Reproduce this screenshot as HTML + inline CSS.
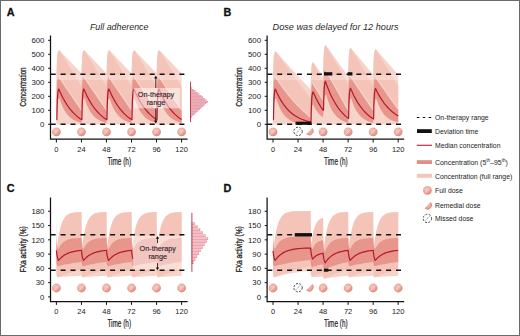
<!DOCTYPE html>
<html><head><meta charset="utf-8"><style>
html,body{margin:0;padding:0;background:#fff;}
body{width:520px;height:336px;overflow:hidden;position:relative;}
svg{position:absolute;left:0;top:0;font-family:"Liberation Sans", sans-serif;}
.frame{position:absolute;left:0;top:0;width:518px;height:334px;border:1px solid #6a6a6a;}
</style></head><body>
<svg width="520" height="336" viewBox="0 0 520 336">
<defs><radialGradient id="pg" cx="0.38" cy="0.35" r="0.7"><stop offset="0" stop-color="#f5c9bf"/><stop offset="0.6" stop-color="#eaa598"/><stop offset="1" stop-color="#d8867a"/></radialGradient></defs>
<path d="M56.40,73.32 L56.78,61.43 L57.16,55.67 L57.53,52.88 L57.91,51.53 L58.29,50.87 L58.67,50.56 L59.05,50.40 L59.43,50.33 L60.53,51.49 L61.63,52.65 L62.73,53.81 L63.83,54.96 L64.93,56.12 L66.03,57.28 L67.13,58.43 L68.23,59.58 L69.33,60.73 L70.43,61.88 L71.53,63.03 L72.63,64.18 L73.73,65.33 L74.84,66.47 L75.94,67.61 L77.04,68.76 L78.14,69.90 L79.24,71.04 L80.34,72.18 L81.44,73.32 L81.44,73.32 L81.82,61.43 L82.20,55.67 L82.57,52.88 L82.95,51.53 L83.33,50.87 L83.71,50.56 L84.09,50.40 L84.46,50.33 L85.57,51.49 L86.67,52.65 L87.77,53.81 L88.87,54.96 L89.97,56.12 L91.07,57.28 L92.17,58.43 L93.27,59.58 L94.37,60.73 L95.47,61.88 L96.57,63.03 L97.67,64.18 L98.77,65.33 L99.87,66.47 L100.97,67.61 L102.08,68.76 L103.18,69.90 L104.28,71.04 L105.38,72.18 L106.48,73.32 L106.48,73.32 L106.86,61.43 L107.23,55.67 L107.61,52.88 L107.99,51.53 L108.37,50.87 L108.75,50.56 L109.13,50.40 L109.50,50.33 L110.60,51.49 L111.71,52.65 L112.81,53.81 L113.91,54.96 L115.01,56.12 L116.11,57.28 L117.21,58.43 L118.31,59.58 L119.41,60.73 L120.51,61.88 L121.61,63.03 L122.71,64.18 L123.81,65.33 L124.91,66.47 L126.01,67.61 L127.11,68.76 L128.22,69.90 L129.32,71.04 L130.42,72.18 L131.52,73.32 L131.52,73.32 L131.90,61.43 L132.27,55.67 L132.65,52.88 L133.03,51.53 L133.41,50.87 L133.79,50.56 L134.16,50.40 L134.54,50.33 L135.64,51.49 L136.74,52.65 L137.85,53.81 L138.95,54.96 L140.05,56.12 L141.15,57.28 L142.25,58.43 L143.35,59.58 L144.45,60.73 L145.55,61.88 L146.65,63.03 L147.75,64.18 L148.85,65.33 L149.95,66.47 L151.05,67.61 L152.15,68.76 L153.25,69.90 L154.36,71.04 L155.46,72.18 L156.56,73.32 L156.56,73.32 L156.93,61.43 L157.31,55.67 L157.69,52.88 L158.07,51.53 L158.45,50.87 L158.83,50.56 L159.20,50.40 L159.58,50.33 L160.68,51.49 L161.78,52.65 L162.88,53.81 L163.99,54.96 L165.09,56.12 L166.19,57.28 L167.29,58.43 L168.39,59.58 L169.49,60.73 L170.59,61.88 L171.69,63.03 L172.79,64.18 L173.89,65.33 L174.99,66.47 L176.09,67.61 L177.19,68.76 L178.29,69.90 L179.39,71.04 L180.50,72.18 L181.60,73.32 L181.60,124.40 L180.45,124.40 L179.30,124.40 L178.15,124.40 L177.01,124.40 L175.86,124.40 L174.71,124.40 L173.56,124.40 L172.41,124.40 L171.27,124.40 L170.12,124.40 L168.97,124.40 L167.82,124.40 L166.68,124.40 L165.53,124.40 L164.38,124.40 L163.23,124.40 L162.09,124.40 L160.94,124.40 L159.79,124.40 L158.64,124.40 L158.38,124.40 L158.12,124.40 L157.86,124.40 L157.60,124.40 L157.34,124.40 L157.08,124.40 L156.82,124.40 L156.56,124.40 L156.56,124.40 L155.41,124.40 L154.26,124.40 L153.11,124.40 L151.97,124.40 L150.82,124.40 L149.67,124.40 L148.52,124.40 L147.38,124.40 L146.23,124.40 L145.08,124.40 L143.93,124.40 L142.79,124.40 L141.64,124.40 L140.49,124.40 L139.34,124.40 L138.19,124.40 L137.05,124.40 L135.90,124.40 L134.75,124.40 L133.60,124.40 L133.34,124.40 L133.08,124.40 L132.82,124.40 L132.56,124.40 L132.30,124.40 L132.04,124.40 L131.78,124.40 L131.52,124.40 L131.52,124.40 L130.37,124.40 L129.22,124.40 L128.07,124.40 L126.93,124.40 L125.78,124.40 L124.63,124.40 L123.48,124.40 L122.34,124.40 L121.19,124.40 L120.04,124.40 L118.89,124.40 L117.75,124.40 L116.60,124.40 L115.45,124.40 L114.30,124.40 L113.16,124.40 L112.01,124.40 L110.86,124.40 L109.71,124.40 L108.56,124.40 L108.30,124.40 L108.04,124.40 L107.78,124.40 L107.52,124.40 L107.26,124.40 L107.00,124.40 L106.74,124.40 L106.48,124.40 L106.48,124.40 L105.33,124.40 L104.18,124.40 L103.04,124.40 L101.89,124.40 L100.74,124.40 L99.59,124.40 L98.44,124.40 L97.30,124.40 L96.15,124.40 L95.00,124.40 L93.85,124.40 L92.71,124.40 L91.56,124.40 L90.41,124.40 L89.26,124.40 L88.12,124.40 L86.97,124.40 L85.82,124.40 L84.67,124.40 L83.53,124.40 L83.26,124.40 L83.00,124.40 L82.74,124.40 L82.48,124.40 L82.22,124.40 L81.96,124.40 L81.70,124.40 L81.44,124.40 L81.44,124.40 L80.29,124.40 L79.14,124.40 L78.00,124.40 L76.85,124.40 L75.70,124.40 L74.55,124.40 L73.41,124.40 L72.26,124.40 L71.11,124.40 L69.96,124.40 L68.82,124.40 L67.67,124.40 L66.52,124.40 L65.37,124.40 L64.22,124.40 L63.08,124.40 L61.93,124.40 L60.78,124.40 L59.63,124.40 L58.49,124.40 L58.23,124.40 L57.96,124.40 L57.70,124.40 L57.44,124.40 L57.18,124.40 L56.92,124.40 L56.66,124.40 L56.40,124.40Z" fill="#f7d4ca"/>
<path d="M56.40,86.23 L56.78,67.66 L57.16,58.67 L57.53,54.31 L57.91,52.20 L58.29,51.18 L58.67,50.68 L59.05,50.44 L59.43,50.33 L60.53,52.14 L61.63,53.95 L62.73,55.76 L63.83,57.57 L64.93,59.37 L66.03,61.18 L67.13,62.98 L68.23,64.78 L69.33,66.58 L70.43,68.37 L71.53,70.17 L72.63,71.96 L73.73,73.75 L74.84,75.54 L75.94,77.32 L77.04,79.11 L78.14,80.89 L79.24,82.67 L80.34,84.45 L81.44,86.23 L81.44,86.23 L81.82,67.66 L82.20,58.67 L82.57,54.31 L82.95,52.20 L83.33,51.18 L83.71,50.68 L84.09,50.44 L84.46,50.33 L85.57,52.14 L86.67,53.95 L87.77,55.76 L88.87,57.57 L89.97,59.37 L91.07,61.18 L92.17,62.98 L93.27,64.78 L94.37,66.58 L95.47,68.37 L96.57,70.17 L97.67,71.96 L98.77,73.75 L99.87,75.54 L100.97,77.32 L102.08,79.11 L103.18,80.89 L104.28,82.67 L105.38,84.45 L106.48,86.23 L106.48,86.23 L106.86,67.66 L107.23,58.67 L107.61,54.31 L107.99,52.20 L108.37,51.18 L108.75,50.68 L109.13,50.44 L109.50,50.33 L110.60,52.14 L111.71,53.95 L112.81,55.76 L113.91,57.57 L115.01,59.37 L116.11,61.18 L117.21,62.98 L118.31,64.78 L119.41,66.58 L120.51,68.37 L121.61,70.17 L122.71,71.96 L123.81,73.75 L124.91,75.54 L126.01,77.32 L127.11,79.11 L128.22,80.89 L129.32,82.67 L130.42,84.45 L131.52,86.23 L131.52,86.23 L131.90,67.66 L132.27,58.67 L132.65,54.31 L133.03,52.20 L133.41,51.18 L133.79,50.68 L134.16,50.44 L134.54,50.33 L135.64,52.14 L136.74,53.95 L137.85,55.76 L138.95,57.57 L140.05,59.37 L141.15,61.18 L142.25,62.98 L143.35,64.78 L144.45,66.58 L145.55,68.37 L146.65,70.17 L147.75,71.96 L148.85,73.75 L149.95,75.54 L151.05,77.32 L152.15,79.11 L153.25,80.89 L154.36,82.67 L155.46,84.45 L156.56,86.23 L156.56,86.23 L156.93,67.66 L157.31,58.67 L157.69,54.31 L158.07,52.20 L158.45,51.18 L158.83,50.68 L159.20,50.44 L159.58,50.33 L160.68,52.14 L161.78,53.95 L162.88,55.76 L163.99,57.57 L165.09,59.37 L166.19,61.18 L167.29,62.98 L168.39,64.78 L169.49,66.58 L170.59,68.37 L171.69,70.17 L172.79,71.96 L173.89,73.75 L174.99,75.54 L176.09,77.32 L177.19,79.11 L178.29,80.89 L179.39,82.67 L180.50,84.45 L181.60,86.23 L181.60,122.70 L180.50,122.45 L179.41,122.16 L178.31,121.83 L177.21,121.45 L176.12,121.02 L175.02,120.53 L173.93,119.96 L172.83,119.31 L171.74,118.56 L170.64,117.70 L169.55,116.72 L168.45,115.60 L167.35,114.31 L166.26,112.83 L165.16,111.14 L164.07,109.20 L162.97,106.97 L161.88,104.42 L160.78,101.50 L159.69,98.15 L159.30,98.36 L158.90,98.72 L158.51,99.36 L158.12,100.49 L157.73,102.46 L157.34,105.93 L156.95,112.02 L156.56,122.70 L156.56,122.70 L155.46,122.45 L154.37,122.16 L153.27,121.83 L152.17,121.45 L151.08,121.02 L149.98,120.53 L148.89,119.96 L147.79,119.31 L146.70,118.56 L145.60,117.70 L144.51,116.72 L143.41,115.60 L142.32,114.31 L141.22,112.83 L140.12,111.14 L139.03,109.20 L137.93,106.97 L136.84,104.42 L135.74,101.50 L134.65,98.15 L134.26,98.36 L133.87,98.72 L133.47,99.36 L133.08,100.49 L132.69,102.46 L132.30,105.93 L131.91,112.02 L131.52,122.70 L131.52,122.70 L130.42,122.45 L129.33,122.16 L128.23,121.83 L127.14,121.45 L126.04,121.02 L124.94,120.53 L123.85,119.96 L122.75,119.31 L121.66,118.56 L120.56,117.70 L119.47,116.72 L118.37,115.60 L117.28,114.31 L116.18,112.83 L115.09,111.14 L113.99,109.20 L112.89,106.97 L111.80,104.42 L110.70,101.50 L109.61,98.15 L109.22,98.36 L108.83,98.72 L108.43,99.36 L108.04,100.49 L107.65,102.46 L107.26,105.93 L106.87,112.02 L106.48,122.70 L106.48,122.70 L105.38,122.45 L104.29,122.16 L103.19,121.83 L102.10,121.45 L101.00,121.02 L99.91,120.53 L98.81,119.96 L97.71,119.31 L96.62,118.56 L95.52,117.70 L94.43,116.72 L93.33,115.60 L92.24,114.31 L91.14,112.83 L90.05,111.14 L88.95,109.20 L87.86,106.97 L86.76,104.42 L85.66,101.50 L84.57,98.15 L84.18,98.36 L83.79,98.72 L83.40,99.36 L83.00,100.49 L82.61,102.46 L82.22,105.93 L81.83,112.02 L81.44,122.70 L81.44,122.70 L80.34,122.45 L79.25,122.16 L78.15,121.83 L77.06,121.45 L75.96,121.02 L74.87,120.53 L73.77,119.96 L72.68,119.31 L71.58,118.56 L70.48,117.70 L69.39,116.72 L68.29,115.60 L67.20,114.31 L66.10,112.83 L65.01,111.14 L63.91,109.20 L62.82,106.97 L61.72,104.42 L60.63,101.50 L59.53,98.15 L59.14,98.36 L58.75,98.72 L58.36,99.36 L57.96,100.49 L57.57,102.46 L57.18,105.93 L56.79,112.02 L56.40,122.70Z" fill="#f4c4b9"/>
<path d="M56.40,110.21 L56.66,96.67 L56.92,88.46 L57.18,83.48 L57.44,80.46 L57.70,78.63 L57.96,77.52 L58.23,76.85 L58.49,76.44 L59.63,78.14 L60.78,79.85 L61.93,81.55 L63.08,83.25 L64.22,84.95 L65.37,86.65 L66.52,88.34 L67.67,90.04 L68.82,91.73 L69.96,93.42 L71.11,95.10 L72.26,96.79 L73.41,98.47 L74.55,100.16 L75.70,101.84 L76.85,103.51 L78.00,105.19 L79.14,106.87 L80.29,108.54 L81.44,110.21 L81.44,110.21 L81.70,96.67 L81.96,88.46 L82.22,83.48 L82.48,80.46 L82.74,78.63 L83.00,77.52 L83.26,76.85 L83.53,76.44 L84.67,78.14 L85.82,79.85 L86.97,81.55 L88.12,83.25 L89.26,84.95 L90.41,86.65 L91.56,88.34 L92.71,90.04 L93.85,91.73 L95.00,93.42 L96.15,95.10 L97.30,96.79 L98.44,98.47 L99.59,100.16 L100.74,101.84 L101.89,103.51 L103.04,105.19 L104.18,106.87 L105.33,108.54 L106.48,110.21 L106.48,110.21 L106.74,96.67 L107.00,88.46 L107.26,83.48 L107.52,80.46 L107.78,78.63 L108.04,77.52 L108.30,76.85 L108.56,76.44 L109.71,78.14 L110.86,79.85 L112.01,81.55 L113.16,83.25 L114.30,84.95 L115.45,86.65 L116.60,88.34 L117.75,90.04 L118.89,91.73 L120.04,93.42 L121.19,95.10 L122.34,96.79 L123.48,98.47 L124.63,100.16 L125.78,101.84 L126.93,103.51 L128.07,105.19 L129.22,106.87 L130.37,108.54 L131.52,110.21 L131.52,110.21 L131.78,96.67 L132.04,88.46 L132.30,83.48 L132.56,80.46 L132.82,78.63 L133.08,77.52 L133.34,76.85 L133.60,76.44 L134.75,78.14 L135.90,79.85 L137.05,81.55 L138.19,83.25 L139.34,84.95 L140.49,86.65 L141.64,88.34 L142.79,90.04 L143.93,91.73 L145.08,93.42 L146.23,95.10 L147.38,96.79 L148.52,98.47 L149.67,100.16 L150.82,101.84 L151.97,103.51 L153.11,105.19 L154.26,106.87 L155.41,108.54 L156.56,110.21 L156.56,110.21 L156.82,96.67 L157.08,88.46 L157.34,83.48 L157.60,80.46 L157.86,78.63 L158.12,77.52 L158.38,76.85 L158.64,76.44 L159.79,78.14 L160.94,79.85 L162.09,81.55 L163.23,83.25 L164.38,84.95 L165.53,86.65 L166.68,88.34 L167.82,90.04 L168.97,91.73 L170.12,93.42 L171.27,95.10 L172.41,96.79 L173.56,98.47 L174.71,100.16 L175.86,101.84 L177.01,103.51 L178.15,105.19 L179.30,106.87 L180.45,108.54 L181.60,110.21 L181.60,122.70 L180.50,122.45 L179.41,122.16 L178.31,121.83 L177.21,121.45 L176.12,121.02 L175.02,120.53 L173.93,119.96 L172.83,119.31 L171.74,118.56 L170.64,117.70 L169.55,116.72 L168.45,115.60 L167.35,114.31 L166.26,112.83 L165.16,111.14 L164.07,109.20 L162.97,106.97 L161.88,104.42 L160.78,101.50 L159.69,98.15 L159.30,98.36 L158.90,98.72 L158.51,99.36 L158.12,100.49 L157.73,102.46 L157.34,105.93 L156.95,112.02 L156.56,122.70 L156.56,122.70 L155.46,122.45 L154.37,122.16 L153.27,121.83 L152.17,121.45 L151.08,121.02 L149.98,120.53 L148.89,119.96 L147.79,119.31 L146.70,118.56 L145.60,117.70 L144.51,116.72 L143.41,115.60 L142.32,114.31 L141.22,112.83 L140.12,111.14 L139.03,109.20 L137.93,106.97 L136.84,104.42 L135.74,101.50 L134.65,98.15 L134.26,98.36 L133.87,98.72 L133.47,99.36 L133.08,100.49 L132.69,102.46 L132.30,105.93 L131.91,112.02 L131.52,122.70 L131.52,122.70 L130.42,122.45 L129.33,122.16 L128.23,121.83 L127.14,121.45 L126.04,121.02 L124.94,120.53 L123.85,119.96 L122.75,119.31 L121.66,118.56 L120.56,117.70 L119.47,116.72 L118.37,115.60 L117.28,114.31 L116.18,112.83 L115.09,111.14 L113.99,109.20 L112.89,106.97 L111.80,104.42 L110.70,101.50 L109.61,98.15 L109.22,98.36 L108.83,98.72 L108.43,99.36 L108.04,100.49 L107.65,102.46 L107.26,105.93 L106.87,112.02 L106.48,122.70 L106.48,122.70 L105.38,122.45 L104.29,122.16 L103.19,121.83 L102.10,121.45 L101.00,121.02 L99.91,120.53 L98.81,119.96 L97.71,119.31 L96.62,118.56 L95.52,117.70 L94.43,116.72 L93.33,115.60 L92.24,114.31 L91.14,112.83 L90.05,111.14 L88.95,109.20 L87.86,106.97 L86.76,104.42 L85.66,101.50 L84.57,98.15 L84.18,98.36 L83.79,98.72 L83.40,99.36 L83.00,100.49 L82.61,102.46 L82.22,105.93 L81.83,112.02 L81.44,122.70 L81.44,122.70 L80.34,122.45 L79.25,122.16 L78.15,121.83 L77.06,121.45 L75.96,121.02 L74.87,120.53 L73.77,119.96 L72.68,119.31 L71.58,118.56 L70.48,117.70 L69.39,116.72 L68.29,115.60 L67.20,114.31 L66.10,112.83 L65.01,111.14 L63.91,109.20 L62.82,106.97 L61.72,104.42 L60.63,101.50 L59.53,98.15 L59.14,98.36 L58.75,98.72 L58.36,99.36 L57.96,100.49 L57.57,102.46 L57.18,105.93 L56.79,112.02 L56.40,122.70Z" fill="#e8958c"/>
<path d="M58.49,76.44 L59.92,78.57 L61.36,80.70 L62.79,82.83 L64.22,84.95 L65.66,87.07 L67.09,89.19 L68.53,91.30 L69.96,93.42 L71.40,95.53 L72.83,97.63 L74.27,99.74 L75.70,101.84 L77.14,103.93 L78.57,106.03 L80.00,108.12 L81.44,110.21" fill="none" stroke="#fff" stroke-opacity="0.45" stroke-width="1.1"/>
<path d="M83.53,76.44 L84.96,78.57 L86.39,80.70 L87.83,82.83 L89.26,84.95 L90.70,87.07 L92.13,89.19 L93.57,91.30 L95.00,93.42 L96.44,95.53 L97.87,97.63 L99.31,99.74 L100.74,101.84 L102.17,103.93 L103.61,106.03 L105.04,108.12 L106.48,110.21" fill="none" stroke="#fff" stroke-opacity="0.45" stroke-width="1.1"/>
<path d="M108.56,76.44 L110.00,78.57 L111.43,80.70 L112.87,82.83 L114.30,84.95 L115.74,87.07 L117.17,89.19 L118.61,91.30 L120.04,93.42 L121.48,95.53 L122.91,97.63 L124.34,99.74 L125.78,101.84 L127.21,103.93 L128.65,106.03 L130.08,108.12 L131.52,110.21" fill="none" stroke="#fff" stroke-opacity="0.45" stroke-width="1.1"/>
<path d="M133.60,76.44 L135.04,78.57 L136.47,80.70 L137.91,82.83 L139.34,84.95 L140.78,87.07 L142.21,89.19 L143.65,91.30 L145.08,93.42 L146.52,95.53 L147.95,97.63 L149.38,99.74 L150.82,101.84 L152.25,103.93 L153.69,106.03 L155.12,108.12 L156.56,110.21" fill="none" stroke="#fff" stroke-opacity="0.45" stroke-width="1.1"/>
<path d="M158.64,76.44 L160.08,78.57 L161.51,80.70 L162.95,82.83 L164.38,84.95 L165.82,87.07 L167.25,89.19 L168.69,91.30 L170.12,93.42 L171.55,95.53 L172.99,97.63 L174.42,99.74 L175.86,101.84 L177.29,103.93 L178.73,106.03 L180.16,108.12 L181.60,110.21" fill="none" stroke="#fff" stroke-opacity="0.45" stroke-width="1.1"/>
<rect x="51.20" y="75.10" width="134.00" height="4.90" fill="#fff" fill-opacity="0.25"/>
<path d="M56.40,119.58 L56.87,119.58 L57.11,107.94 L57.35,100.61 L57.59,96.00 L57.83,93.09 L58.08,91.26 L58.32,90.11 L58.56,89.38 L58.80,88.93 L59.93,91.58 L61.06,94.06 L62.20,96.39 L63.33,98.58 L64.46,100.62 L65.59,102.54 L66.72,104.33 L67.86,106.02 L68.99,107.59 L70.12,109.07 L71.25,110.45 L72.38,111.75 L73.52,112.96 L74.65,114.10 L75.78,115.17 L76.91,116.17 L78.04,117.11 L79.18,117.98 L80.31,118.81 L81.44,119.58 L81.44,119.58 L81.91,119.58 L82.15,107.94 L82.39,100.61 L82.63,96.00 L82.87,93.09 L83.12,91.26 L83.36,90.11 L83.60,89.38 L83.84,88.93 L84.97,91.58 L86.10,94.06 L87.23,96.39 L88.37,98.58 L89.50,100.62 L90.63,102.54 L91.76,104.33 L92.89,106.02 L94.03,107.59 L95.16,109.07 L96.29,110.45 L97.42,111.75 L98.55,112.96 L99.69,114.10 L100.82,115.17 L101.95,116.17 L103.08,117.11 L104.21,117.98 L105.35,118.81 L106.48,119.58 L106.48,119.58 L106.95,119.58 L107.19,107.94 L107.43,100.61 L107.67,96.00 L107.91,93.09 L108.15,91.26 L108.40,90.11 L108.64,89.38 L108.88,88.93 L110.01,91.58 L111.14,94.06 L112.27,96.39 L113.41,98.58 L114.54,100.62 L115.67,102.54 L116.80,104.33 L117.93,106.02 L119.07,107.59 L120.20,109.07 L121.33,110.45 L122.46,111.75 L123.59,112.96 L124.73,114.10 L125.86,115.17 L126.99,116.17 L128.12,117.11 L129.25,117.98 L130.39,118.81 L131.52,119.58 L131.52,119.58 L131.99,119.58 L132.23,107.94 L132.47,100.61 L132.71,96.00 L132.95,93.09 L133.19,91.26 L133.43,90.11 L133.68,89.38 L133.92,88.93 L135.05,91.58 L136.18,94.06 L137.31,96.39 L138.45,98.58 L139.58,100.62 L140.71,102.54 L141.84,104.33 L142.97,106.02 L144.11,107.59 L145.24,109.07 L146.37,110.45 L147.50,111.75 L148.63,112.96 L149.76,114.10 L150.90,115.17 L152.03,116.17 L153.16,117.11 L154.29,117.98 L155.42,118.81 L156.56,119.58 L156.56,119.58 L157.03,119.58 L157.27,107.94 L157.51,100.61 L157.75,96.00 L157.99,93.09 L158.23,91.26 L158.47,90.11 L158.72,89.38 L158.96,88.93 L160.09,91.58 L161.22,94.06 L162.35,96.39 L163.48,98.58 L164.62,100.62 L165.75,102.54 L166.88,104.33 L168.01,106.02 L169.14,107.59 L170.28,109.07 L171.41,110.45 L172.54,111.75 L173.67,112.96 L174.80,114.10 L175.94,115.17 L177.07,116.17 L178.20,117.11 L179.33,117.98 L180.46,118.81 L181.60,119.58" fill="none" stroke="#b5172c" stroke-width="1.2" stroke-linejoin="round"/>
<path d="M273.00,73.32 L273.35,62.54 L273.70,57.06 L274.06,54.26 L274.41,52.84 L274.76,52.12 L275.11,51.75 L275.46,51.56 L275.82,51.46 L277.55,53.40 L279.29,55.34 L281.03,57.27 L282.77,59.20 L284.50,61.13 L286.24,63.05 L287.98,64.97 L289.71,66.88 L291.45,68.80 L293.19,70.71 L294.92,72.61 L296.66,74.52 L298.40,76.42 L300.14,78.32 L301.87,80.21 L303.61,82.10 L305.35,83.99 L307.08,85.87 L308.82,87.76 L310.56,89.63 L310.56,89.63 L310.88,76.69 L311.21,69.76 L311.54,66.05 L311.86,64.06 L312.19,63.00 L312.51,62.43 L312.84,62.13 L313.17,61.96 L313.66,62.68 L314.16,63.39 L314.65,64.10 L315.15,64.81 L315.64,65.52 L316.14,66.24 L316.64,66.95 L317.13,67.66 L317.63,68.37 L318.12,69.08 L318.62,69.79 L319.11,70.49 L319.61,71.20 L320.10,71.91 L320.60,72.62 L321.10,73.33 L321.59,74.03 L322.09,74.74 L322.58,75.45 L323.08,76.15 L323.08,76.15 L323.40,61.55 L323.73,53.73 L324.06,49.54 L324.38,47.30 L324.71,46.11 L325.03,45.46 L325.36,45.12 L325.69,44.94 L326.81,46.51 L327.93,48.07 L329.05,49.64 L330.17,51.20 L331.29,52.77 L332.42,54.33 L333.54,55.89 L334.66,57.45 L335.78,59.00 L336.90,60.56 L338.02,62.11 L339.15,63.66 L340.27,65.21 L341.39,66.76 L342.51,68.31 L343.63,69.85 L344.75,71.39 L345.87,72.93 L347.00,74.47 L348.12,76.01 L348.12,76.01 L348.44,62.80 L348.77,55.73 L349.10,51.94 L349.42,49.92 L349.75,48.83 L350.07,48.25 L350.40,47.94 L350.73,47.77 L351.85,49.12 L352.97,50.47 L354.09,51.81 L355.21,53.16 L356.33,54.50 L357.46,55.84 L358.58,57.18 L359.70,58.51 L360.82,59.85 L361.94,61.18 L363.06,62.52 L364.18,63.85 L365.31,65.18 L366.43,66.51 L367.55,67.84 L368.67,69.16 L369.79,70.49 L370.91,71.81 L372.04,73.13 L373.16,74.45 L373.16,74.45 L373.48,62.57 L373.81,56.21 L374.13,52.80 L374.46,50.98 L374.79,50.00 L375.11,49.48 L375.44,49.20 L375.77,49.05 L376.89,50.35 L378.01,51.64 L379.13,52.94 L380.25,54.23 L381.37,55.52 L382.49,56.81 L383.62,58.10 L384.74,59.39 L385.86,60.68 L386.98,61.96 L388.10,63.25 L389.22,64.53 L390.35,65.81 L391.47,67.09 L392.59,68.37 L393.71,69.64 L394.83,70.92 L395.95,72.19 L397.07,73.46 L398.20,74.74 L398.20,124.40 L397.05,124.40 L395.90,124.40 L394.75,124.40 L393.61,124.40 L392.46,124.40 L391.31,124.40 L390.16,124.40 L389.01,124.40 L387.87,124.40 L386.72,124.40 L385.57,124.40 L384.42,124.40 L383.28,124.40 L382.13,124.40 L380.98,124.40 L379.83,124.40 L378.69,124.40 L377.54,124.40 L376.39,124.40 L375.24,124.40 L374.98,124.40 L374.72,124.40 L374.46,124.40 L374.20,124.40 L373.94,124.40 L373.68,124.40 L373.42,124.40 L373.16,124.40 L373.16,124.40 L372.01,124.40 L370.86,124.40 L369.71,124.40 L368.57,124.40 L367.42,124.40 L366.27,124.40 L365.12,124.40 L363.98,124.40 L362.83,124.40 L361.68,124.40 L360.53,124.40 L359.39,124.40 L358.24,124.40 L357.09,124.40 L355.94,124.40 L354.79,124.40 L353.65,124.40 L352.50,124.40 L351.35,124.40 L350.20,124.40 L349.94,124.40 L349.68,124.40 L349.42,124.40 L349.16,124.40 L348.90,124.40 L348.64,124.40 L348.38,124.40 L348.12,124.40 L348.12,124.40 L346.97,124.40 L345.82,124.40 L344.67,124.40 L343.53,124.40 L342.38,124.40 L341.23,124.40 L340.08,124.40 L338.94,124.40 L337.79,124.40 L336.64,124.40 L335.49,124.40 L334.35,124.40 L333.20,124.40 L332.05,124.40 L330.90,124.40 L329.76,124.40 L328.61,124.40 L327.46,124.40 L326.31,124.40 L325.16,124.40 L324.90,124.40 L324.64,124.40 L324.38,124.40 L324.12,124.40 L323.86,124.40 L323.60,124.40 L323.34,124.40 L323.08,124.40 L323.08,124.40 L322.56,124.40 L322.04,124.40 L321.51,124.40 L320.99,124.40 L320.47,124.40 L319.95,124.40 L319.43,124.40 L318.91,124.40 L318.38,124.40 L317.86,124.40 L317.34,124.40 L316.82,124.40 L316.30,124.40 L315.78,124.40 L315.25,124.40 L314.73,124.40 L314.21,124.40 L313.69,124.40 L313.17,124.40 L312.65,124.40 L312.38,124.40 L312.12,124.40 L311.86,124.40 L311.60,124.40 L311.34,124.40 L311.08,124.40 L310.82,124.40 L310.56,124.40 L310.56,124.40 L308.79,124.40 L307.01,124.40 L305.24,124.40 L303.46,124.40 L301.69,124.40 L299.92,124.40 L298.14,124.40 L296.37,124.40 L294.60,124.40 L292.82,124.40 L291.05,124.40 L289.28,124.40 L287.50,124.40 L285.73,124.40 L283.95,124.40 L282.18,124.40 L280.41,124.40 L278.63,124.40 L276.86,124.40 L275.09,124.40 L274.83,124.40 L274.56,124.40 L274.30,124.40 L274.04,124.40 L273.78,124.40 L273.52,124.40 L273.26,124.40 L273.00,124.40Z" fill="#f7d4ca"/>
<path d="M273.00,86.23 L273.35,69.09 L273.70,60.36 L274.06,55.92 L274.41,53.65 L274.76,52.50 L275.11,51.91 L275.46,51.62 L275.82,51.46 L277.55,53.87 L279.29,56.27 L281.03,58.67 L282.77,61.07 L284.50,63.46 L286.24,65.85 L287.98,68.23 L289.71,70.61 L291.45,72.99 L293.19,75.36 L294.92,77.73 L296.66,80.09 L298.40,82.45 L300.14,84.80 L301.87,87.16 L303.61,89.50 L305.35,91.85 L307.08,94.19 L308.82,96.53 L310.56,98.86 L310.56,98.86 L310.88,81.86 L311.21,72.76 L311.54,67.89 L311.86,65.29 L312.19,63.89 L312.51,63.15 L312.84,62.75 L313.17,62.53 L313.66,63.50 L314.16,64.47 L314.65,65.44 L315.15,66.41 L315.64,67.37 L316.14,68.34 L316.64,69.31 L317.13,70.27 L317.63,71.24 L318.12,72.20 L318.62,73.17 L319.11,74.13 L319.61,75.10 L320.10,76.06 L320.60,77.02 L321.10,77.98 L321.59,78.95 L322.09,79.91 L322.58,80.87 L323.08,81.83 L323.08,81.83 L323.40,64.70 L323.73,55.53 L324.06,50.62 L324.38,48.00 L324.71,46.59 L325.03,45.84 L325.36,45.44 L325.69,45.22 L326.81,47.14 L327.93,49.06 L329.05,50.98 L330.17,52.89 L331.29,54.80 L332.42,56.71 L333.54,58.62 L334.66,60.53 L335.78,62.43 L336.90,64.34 L338.02,66.24 L339.15,68.14 L340.27,70.03 L341.39,71.93 L342.51,73.82 L343.63,75.71 L344.75,77.60 L345.87,79.48 L347.00,81.37 L348.12,83.25 L348.12,83.25 L348.44,66.78 L348.77,57.97 L349.10,53.25 L349.42,50.73 L349.75,49.38 L350.07,48.65 L350.40,48.27 L350.73,48.06 L351.85,49.94 L352.97,51.83 L354.09,53.71 L355.21,55.59 L356.33,57.46 L357.46,59.34 L358.58,61.21 L359.70,63.08 L360.82,64.95 L361.94,66.82 L363.06,68.68 L364.18,70.55 L365.31,72.41 L366.43,74.27 L367.55,76.12 L368.67,77.98 L369.79,79.83 L370.91,81.68 L372.04,83.53 L373.16,85.38 L373.16,85.38 L373.48,68.51 L373.81,59.49 L374.13,54.66 L374.46,52.07 L374.79,50.68 L375.11,49.94 L375.44,49.55 L375.77,49.33 L376.89,51.18 L378.01,53.02 L379.13,54.86 L380.25,56.69 L381.37,58.53 L382.49,60.36 L383.62,62.19 L384.74,64.02 L385.86,65.84 L386.98,67.67 L388.10,69.49 L389.22,71.31 L390.35,73.13 L391.47,74.94 L392.59,76.76 L393.71,78.57 L394.83,80.38 L395.95,82.19 L397.07,84.00 L398.20,85.80 L398.20,122.27 L397.10,122.03 L396.01,121.75 L394.91,121.43 L393.81,121.07 L392.72,120.65 L391.62,120.17 L390.53,119.63 L389.43,119.00 L388.34,118.28 L387.24,117.45 L386.15,116.50 L385.05,115.42 L383.95,114.17 L382.86,112.75 L381.76,111.11 L380.67,109.24 L379.57,107.09 L378.48,104.63 L377.38,101.81 L376.29,98.57 L375.90,98.78 L375.50,99.14 L375.11,99.77 L374.72,100.87 L374.33,102.82 L373.94,106.22 L373.55,112.20 L373.16,122.70 L373.16,122.70 L372.06,122.45 L370.97,122.16 L369.87,121.83 L368.77,121.45 L367.68,121.02 L366.58,120.53 L365.49,119.96 L364.39,119.31 L363.30,118.56 L362.20,117.70 L361.11,116.72 L360.01,115.60 L358.92,114.31 L357.82,112.83 L356.72,111.14 L355.63,109.20 L354.53,106.97 L353.44,104.42 L352.34,101.50 L351.25,98.15 L350.86,98.36 L350.47,98.72 L350.07,99.36 L349.68,100.49 L349.29,102.46 L348.90,105.93 L348.51,112.02 L348.12,122.70 L348.12,122.70 L347.02,122.41 L345.93,122.08 L344.83,121.71 L343.74,121.27 L342.64,120.78 L341.54,120.21 L340.45,119.56 L339.35,118.82 L338.26,117.96 L337.16,116.98 L336.07,115.86 L334.97,114.57 L333.88,113.10 L332.78,111.41 L331.69,109.47 L330.59,107.25 L329.49,104.70 L328.40,101.78 L327.30,98.44 L326.21,94.60 L325.82,94.79 L325.43,95.13 L325.03,95.72 L324.64,96.77 L324.25,98.59 L323.86,101.80 L323.47,107.43 L323.08,117.31 L323.08,117.31 L322.58,116.97 L322.09,116.62 L321.59,116.24 L321.10,115.84 L320.60,115.41 L320.10,114.96 L319.61,114.47 L319.11,113.96 L318.62,113.41 L318.12,112.83 L317.63,112.21 L317.13,111.55 L316.64,110.85 L316.14,110.11 L315.64,109.32 L315.15,108.48 L314.65,107.58 L314.16,106.63 L313.66,105.61 L313.17,104.53 L312.84,104.82 L312.51,105.28 L312.19,106.01 L311.86,107.18 L311.54,109.04 L311.21,112.02 L310.88,116.79 L310.56,124.40 L310.56,124.40 L308.84,124.31 L307.12,124.20 L305.39,124.07 L303.67,123.90 L301.95,123.70 L300.23,123.44 L298.51,123.13 L296.79,122.74 L295.07,122.25 L293.34,121.65 L291.62,120.90 L289.90,119.98 L288.18,118.83 L286.46,117.42 L284.74,115.66 L283.02,113.48 L281.29,110.78 L279.57,107.43 L277.85,103.29 L276.13,98.15 L275.74,98.36 L275.35,98.72 L274.96,99.36 L274.56,100.49 L274.17,102.46 L273.78,105.93 L273.39,112.02 L273.00,122.70Z" fill="#f4c4b9"/>
<path d="M273.00,110.21 L273.26,96.67 L273.52,88.46 L273.78,83.48 L274.04,80.46 L274.30,78.63 L274.56,77.52 L274.83,76.85 L275.09,76.44 L276.86,79.21 L278.63,81.88 L280.41,84.47 L282.18,86.97 L283.95,89.39 L285.73,91.72 L287.50,93.98 L289.28,96.16 L291.05,98.27 L292.82,100.31 L294.60,102.28 L296.37,104.19 L298.14,106.03 L299.92,107.81 L301.69,109.53 L303.46,111.19 L305.24,112.80 L307.01,114.35 L308.79,115.85 L310.56,117.31 L310.56,117.31 L310.82,103.65 L311.08,95.38 L311.34,90.35 L311.60,87.31 L311.86,85.46 L312.12,84.34 L312.38,83.66 L312.65,83.25 L313.17,84.10 L313.69,84.96 L314.21,85.81 L314.73,86.67 L315.25,87.52 L315.78,88.38 L316.30,89.23 L316.82,90.08 L317.34,90.93 L317.86,91.78 L318.38,92.64 L318.91,93.49 L319.43,94.34 L319.95,95.19 L320.47,96.04 L320.99,96.89 L321.51,97.73 L322.04,98.58 L322.56,99.43 L323.08,100.28 L323.08,100.28 L323.34,87.76 L323.60,80.18 L323.86,75.57 L324.12,72.78 L324.38,71.09 L324.64,70.06 L324.90,69.44 L325.16,69.06 L326.31,71.14 L327.46,73.21 L328.61,75.29 L329.76,77.36 L330.90,79.43 L332.05,81.50 L333.20,83.56 L334.35,85.63 L335.49,87.69 L336.64,89.75 L337.79,91.80 L338.94,93.86 L340.08,95.91 L341.23,97.96 L342.38,100.01 L343.53,102.05 L344.67,104.09 L345.82,106.14 L346.97,108.17 L348.12,110.21 L348.12,110.21 L348.38,96.56 L348.64,88.28 L348.90,83.26 L349.16,80.21 L349.42,78.37 L349.68,77.25 L349.94,76.57 L350.20,76.15 L351.35,77.87 L352.50,79.59 L353.65,81.31 L354.79,83.03 L355.94,84.74 L357.09,86.45 L358.24,88.16 L359.39,89.87 L360.53,91.57 L361.68,93.28 L362.83,94.98 L363.98,96.68 L365.12,98.38 L366.27,100.07 L367.42,101.77 L368.57,103.46 L369.71,105.15 L370.86,106.84 L372.01,108.52 L373.16,110.21 L373.16,110.21 L373.42,96.84 L373.68,88.74 L373.94,83.82 L374.20,80.84 L374.46,79.03 L374.72,77.93 L374.98,77.27 L375.24,76.86 L376.39,78.51 L377.54,80.16 L378.69,81.80 L379.83,83.45 L380.98,85.09 L382.13,86.73 L383.28,88.37 L384.42,90.00 L385.57,91.64 L386.72,93.27 L387.87,94.90 L389.01,96.53 L390.16,98.16 L391.31,99.78 L392.46,101.41 L393.61,103.03 L394.75,104.65 L395.90,106.27 L397.05,107.89 L398.20,109.50 L398.20,122.27 L397.10,122.03 L396.01,121.75 L394.91,121.43 L393.81,121.07 L392.72,120.65 L391.62,120.17 L390.53,119.63 L389.43,119.00 L388.34,118.28 L387.24,117.45 L386.15,116.50 L385.05,115.42 L383.95,114.17 L382.86,112.75 L381.76,111.11 L380.67,109.24 L379.57,107.09 L378.48,104.63 L377.38,101.81 L376.29,98.57 L375.90,98.78 L375.50,99.14 L375.11,99.77 L374.72,100.87 L374.33,102.82 L373.94,106.22 L373.55,112.20 L373.16,122.70 L373.16,122.70 L372.06,122.45 L370.97,122.16 L369.87,121.83 L368.77,121.45 L367.68,121.02 L366.58,120.53 L365.49,119.96 L364.39,119.31 L363.30,118.56 L362.20,117.70 L361.11,116.72 L360.01,115.60 L358.92,114.31 L357.82,112.83 L356.72,111.14 L355.63,109.20 L354.53,106.97 L353.44,104.42 L352.34,101.50 L351.25,98.15 L350.86,98.36 L350.47,98.72 L350.07,99.36 L349.68,100.49 L349.29,102.46 L348.90,105.93 L348.51,112.02 L348.12,122.70 L348.12,122.70 L347.02,122.41 L345.93,122.08 L344.83,121.71 L343.74,121.27 L342.64,120.78 L341.54,120.21 L340.45,119.56 L339.35,118.82 L338.26,117.96 L337.16,116.98 L336.07,115.86 L334.97,114.57 L333.88,113.10 L332.78,111.41 L331.69,109.47 L330.59,107.25 L329.49,104.70 L328.40,101.78 L327.30,98.44 L326.21,94.60 L325.82,94.79 L325.43,95.13 L325.03,95.72 L324.64,96.77 L324.25,98.59 L323.86,101.80 L323.47,107.43 L323.08,117.31 L323.08,117.31 L322.58,116.97 L322.09,116.62 L321.59,116.24 L321.10,115.84 L320.60,115.41 L320.10,114.96 L319.61,114.47 L319.11,113.96 L318.62,113.41 L318.12,112.83 L317.63,112.21 L317.13,111.55 L316.64,110.85 L316.14,110.11 L315.64,109.32 L315.15,108.48 L314.65,107.58 L314.16,106.63 L313.66,105.61 L313.17,104.53 L312.84,104.82 L312.51,105.28 L312.19,106.01 L311.86,107.18 L311.54,109.04 L311.21,112.02 L310.88,116.79 L310.56,124.40 L310.56,124.40 L308.84,124.31 L307.12,124.20 L305.39,124.07 L303.67,123.90 L301.95,123.70 L300.23,123.44 L298.51,123.13 L296.79,122.74 L295.07,122.25 L293.34,121.65 L291.62,120.90 L289.90,119.98 L288.18,118.83 L286.46,117.42 L284.74,115.66 L283.02,113.48 L281.29,110.78 L279.57,107.43 L277.85,103.29 L276.13,98.15 L275.74,98.36 L275.35,98.72 L274.96,99.36 L274.56,100.49 L274.17,102.46 L273.78,105.93 L273.39,112.02 L273.00,122.70Z" fill="#e8958c"/>
<path d="M275.09,76.44 L277.30,79.88 L279.52,83.19 L281.74,86.35 L283.95,89.39 L286.17,92.29 L288.39,95.08 L290.61,97.75 L292.82,100.31 L295.04,102.77 L297.26,105.12 L299.47,107.37 L301.69,109.53 L303.91,111.60 L306.12,113.58 L308.34,115.48 L310.56,117.31" fill="none" stroke="#fff" stroke-opacity="0.45" stroke-width="1.1"/>
<path d="M312.65,83.25 L313.30,84.32 L313.95,85.39 L314.60,86.45 L315.25,87.52 L315.91,88.59 L316.56,89.65 L317.21,90.72 L317.86,91.78 L318.51,92.85 L319.17,93.91 L319.82,94.97 L320.47,96.04 L321.12,97.10 L321.77,98.16 L322.43,99.22 L323.08,100.28" fill="none" stroke="#fff" stroke-opacity="0.45" stroke-width="1.1"/>
<path d="M325.16,69.06 L326.60,71.66 L328.03,74.25 L329.47,76.84 L330.90,79.43 L332.34,82.02 L333.77,84.60 L335.21,87.17 L336.64,89.75 L338.08,92.32 L339.51,94.88 L340.94,97.45 L342.38,100.01 L343.81,102.56 L345.25,105.12 L346.68,107.66 L348.12,110.21" fill="none" stroke="#fff" stroke-opacity="0.45" stroke-width="1.1"/>
<path d="M350.20,76.15 L351.64,78.30 L353.07,80.45 L354.51,82.60 L355.94,84.74 L357.38,86.88 L358.81,89.01 L360.25,91.15 L361.68,93.28 L363.12,95.40 L364.55,97.53 L365.98,99.65 L367.42,101.77 L368.85,103.88 L370.29,105.99 L371.72,108.10 L373.16,110.21" fill="none" stroke="#fff" stroke-opacity="0.45" stroke-width="1.1"/>
<path d="M375.24,76.86 L376.68,78.92 L378.11,80.98 L379.55,83.04 L380.98,85.09 L382.42,87.14 L383.85,89.19 L385.29,91.23 L386.72,93.27 L388.15,95.31 L389.59,97.35 L391.02,99.38 L392.46,101.41 L393.89,103.44 L395.33,105.46 L396.76,107.48 L398.20,109.50" fill="none" stroke="#fff" stroke-opacity="0.45" stroke-width="1.1"/>
<rect x="267.80" y="75.10" width="134.00" height="4.90" fill="#fff" fill-opacity="0.25"/>
<path d="M273.00,119.58 L273.47,119.58 L273.70,108.38 L273.93,101.15 L274.15,96.48 L274.38,93.46 L274.61,91.52 L274.84,90.26 L275.07,89.45 L275.30,88.93 L277.06,93.00 L278.82,96.61 L280.58,99.83 L282.35,102.68 L284.11,105.22 L285.87,107.47 L287.64,109.47 L289.40,111.25 L291.16,112.83 L292.93,114.23 L294.69,115.48 L296.45,116.59 L298.22,117.57 L299.98,118.45 L301.74,119.23 L303.51,119.92 L305.27,120.53 L307.03,121.07 L308.80,121.56 L310.56,121.99 L310.56,121.99 L311.03,121.99 L311.30,109.72 L311.56,102.37 L311.83,97.97 L312.10,95.34 L312.37,93.76 L312.63,92.81 L312.90,92.24 L313.17,91.90 L313.66,93.08 L314.16,94.22 L314.65,95.33 L315.15,96.41 L315.64,97.46 L316.14,98.48 L316.64,99.47 L317.13,100.43 L317.63,101.36 L318.12,102.27 L318.62,103.16 L319.11,104.01 L319.61,104.85 L320.10,105.66 L320.60,106.45 L321.10,107.21 L321.59,107.96 L322.09,108.68 L322.58,109.38 L323.08,110.07 L323.08,110.07 L323.55,110.07 L323.78,99.54 L324.00,92.75 L324.23,88.36 L324.46,85.53 L324.69,83.70 L324.92,82.52 L325.15,81.75 L325.37,81.26 L326.51,84.48 L327.65,87.49 L328.79,90.31 L329.92,92.95 L331.06,95.42 L332.20,97.74 L333.33,99.91 L334.47,101.94 L335.61,103.84 L336.75,105.63 L337.88,107.30 L339.02,108.86 L340.16,110.33 L341.29,111.70 L342.43,112.99 L343.57,114.19 L344.71,115.32 L345.84,116.38 L346.98,117.37 L348.12,118.30 L348.12,118.30 L348.59,118.30 L348.83,106.88 L349.07,99.68 L349.31,95.15 L349.55,92.30 L349.79,90.51 L350.03,89.38 L350.28,88.66 L350.52,88.22 L351.65,90.87 L352.78,93.36 L353.91,95.68 L355.05,97.87 L356.18,99.91 L357.31,101.83 L358.44,103.62 L359.57,105.31 L360.71,106.88 L361.84,108.36 L362.97,109.74 L364.10,111.04 L365.23,112.26 L366.36,113.39 L367.50,114.46 L368.63,115.46 L369.76,116.40 L370.89,117.27 L372.02,118.10 L373.16,118.87 L373.16,118.87 L373.63,118.87 L373.87,107.34 L374.11,100.08 L374.35,95.50 L374.59,92.63 L374.83,90.81 L375.07,89.67 L375.32,88.95 L375.56,88.50 L376.69,90.87 L377.82,93.09 L378.95,95.17 L380.08,97.12 L381.22,98.95 L382.35,100.66 L383.48,102.27 L384.61,103.77 L385.74,105.18 L386.88,106.50 L388.01,107.74 L389.14,108.89 L390.27,109.98 L391.40,111.00 L392.54,111.95 L393.67,112.84 L394.80,113.68 L395.93,114.46 L397.06,115.20 L398.20,115.89" fill="none" stroke="#b5172c" stroke-width="1.2" stroke-linejoin="round"/>
<path d="M56.40,212.05 L56.50,225.88 L56.61,234.27 L56.71,239.36 L56.82,242.45 L56.92,244.32 L57.03,245.46 L57.13,246.15 L57.23,246.56 L58.44,237.85 L59.66,231.33 L60.87,226.45 L62.08,222.79 L63.29,220.06 L64.50,218.02 L65.71,216.49 L66.92,215.34 L68.13,214.49 L69.34,213.85 L70.55,213.37 L71.76,213.01 L72.97,212.74 L74.18,212.54 L75.39,212.39 L76.60,212.28 L77.81,212.19 L79.02,212.13 L80.23,212.08 L81.44,212.05 L81.44,212.05 L81.54,225.88 L81.65,234.27 L81.75,239.36 L81.86,242.45 L81.96,244.32 L82.07,245.46 L82.17,246.15 L82.27,246.56 L83.48,237.85 L84.69,231.33 L85.90,226.45 L87.11,222.79 L88.32,220.06 L89.54,218.02 L90.75,216.49 L91.96,215.34 L93.17,214.49 L94.38,213.85 L95.59,213.37 L96.80,213.01 L98.01,212.74 L99.22,212.54 L100.43,212.39 L101.64,212.28 L102.85,212.19 L104.06,212.13 L105.27,212.08 L106.48,212.05 L106.48,212.05 L106.58,225.88 L106.69,234.27 L106.79,239.36 L106.90,242.45 L107.00,244.32 L107.10,245.46 L107.21,246.15 L107.31,246.56 L108.52,237.85 L109.73,231.33 L110.94,226.45 L112.15,222.79 L113.36,220.06 L114.57,218.02 L115.78,216.49 L116.99,215.34 L118.21,214.49 L119.42,213.85 L120.63,213.37 L121.84,213.01 L123.05,212.74 L124.26,212.54 L125.47,212.39 L126.68,212.28 L127.89,212.19 L129.10,212.13 L130.31,212.08 L131.52,212.05 L131.52,212.05 L131.62,225.88 L131.73,234.27 L131.83,239.36 L131.93,242.45 L132.04,244.32 L132.14,245.46 L132.25,246.15 L132.35,246.56 L133.56,237.85 L134.77,231.33 L135.98,226.45 L137.19,222.79 L138.40,220.06 L139.61,218.02 L140.82,216.49 L142.03,215.34 L143.24,214.49 L144.45,213.85 L145.66,213.37 L146.87,213.01 L148.09,212.74 L149.30,212.54 L150.51,212.39 L151.72,212.28 L152.93,212.19 L154.14,212.13 L155.35,212.08 L156.56,212.05 L156.56,212.05 L156.66,225.88 L156.77,234.27 L156.87,239.36 L156.97,242.45 L157.08,244.32 L157.18,245.46 L157.29,246.15 L157.39,246.56 L158.60,237.85 L159.81,231.33 L161.02,226.45 L162.23,222.79 L163.44,220.06 L164.65,218.02 L165.86,216.49 L167.07,215.34 L168.28,214.49 L169.49,213.85 L170.70,213.37 L171.91,213.01 L173.12,212.74 L174.33,212.54 L175.54,212.39 L176.76,212.28 L177.97,212.19 L179.18,212.13 L180.39,212.08 L181.60,212.05 L181.60,275.81 L180.42,275.86 L179.25,275.91 L178.07,275.97 L176.90,276.02 L175.73,276.08 L174.55,276.14 L173.38,276.20 L172.21,276.27 L171.03,276.34 L169.86,276.41 L168.69,276.48 L167.51,276.55 L166.34,276.63 L165.16,276.71 L163.99,276.79 L162.82,276.87 L161.64,276.96 L160.47,277.05 L159.30,277.15 L158.12,277.24 L157.93,277.21 L157.73,277.16 L157.53,277.09 L157.34,276.98 L157.14,276.83 L156.95,276.61 L156.75,276.28 L156.56,275.81 L156.56,275.81 L155.38,275.86 L154.21,275.91 L153.04,275.97 L151.86,276.02 L150.69,276.08 L149.51,276.14 L148.34,276.20 L147.17,276.27 L145.99,276.34 L144.82,276.41 L143.65,276.48 L142.47,276.55 L141.30,276.63 L140.12,276.71 L138.95,276.79 L137.78,276.87 L136.60,276.96 L135.43,277.05 L134.26,277.15 L133.08,277.24 L132.89,277.21 L132.69,277.16 L132.50,277.09 L132.30,276.98 L132.10,276.83 L131.91,276.61 L131.71,276.28 L131.52,275.81 L131.52,275.81 L130.34,275.86 L129.17,275.91 L128.00,275.97 L126.82,276.02 L125.65,276.08 L124.48,276.14 L123.30,276.20 L122.13,276.27 L120.95,276.34 L119.78,276.41 L118.61,276.48 L117.43,276.55 L116.26,276.63 L115.09,276.71 L113.91,276.79 L112.74,276.87 L111.56,276.96 L110.39,277.05 L109.22,277.15 L108.04,277.24 L107.85,277.21 L107.65,277.16 L107.46,277.09 L107.26,276.98 L107.07,276.83 L106.87,276.61 L106.67,276.28 L106.48,275.81 L106.48,275.81 L105.30,275.86 L104.13,275.91 L102.96,275.97 L101.78,276.02 L100.61,276.08 L99.44,276.14 L98.26,276.20 L97.09,276.27 L95.91,276.34 L94.74,276.41 L93.57,276.48 L92.39,276.55 L91.22,276.63 L90.05,276.71 L88.87,276.79 L87.70,276.87 L86.53,276.96 L85.35,277.05 L84.18,277.15 L83.00,277.24 L82.81,277.21 L82.61,277.16 L82.42,277.09 L82.22,276.98 L82.03,276.83 L81.83,276.61 L81.63,276.28 L81.44,275.81 L81.44,275.81 L80.27,275.86 L79.09,275.91 L77.92,275.97 L76.74,276.02 L75.57,276.08 L74.40,276.14 L73.22,276.20 L72.05,276.27 L70.88,276.34 L69.70,276.41 L68.53,276.48 L67.35,276.55 L66.18,276.63 L65.01,276.71 L63.83,276.79 L62.66,276.87 L61.49,276.96 L60.31,277.05 L59.14,277.15 L57.96,277.24 L57.77,277.21 L57.57,277.16 L57.38,277.09 L57.18,276.98 L56.99,276.83 L56.79,276.61 L56.60,276.28 L56.40,275.81Z" fill="#f7d4ca"/>
<path d="M56.40,212.05 L56.50,225.88 L56.61,234.27 L56.71,239.36 L56.82,242.45 L56.92,244.32 L57.03,245.46 L57.13,246.15 L57.23,246.56 L58.44,237.85 L59.66,231.33 L60.87,226.45 L62.08,222.79 L63.29,220.06 L64.50,218.02 L65.71,216.49 L66.92,215.34 L68.13,214.49 L69.34,213.85 L70.55,213.37 L71.76,213.01 L72.97,212.74 L74.18,212.54 L75.39,212.39 L76.60,212.28 L77.81,212.19 L79.02,212.13 L80.23,212.08 L81.44,212.05 L81.44,212.05 L81.54,225.88 L81.65,234.27 L81.75,239.36 L81.86,242.45 L81.96,244.32 L82.07,245.46 L82.17,246.15 L82.27,246.56 L83.48,237.85 L84.69,231.33 L85.90,226.45 L87.11,222.79 L88.32,220.06 L89.54,218.02 L90.75,216.49 L91.96,215.34 L93.17,214.49 L94.38,213.85 L95.59,213.37 L96.80,213.01 L98.01,212.74 L99.22,212.54 L100.43,212.39 L101.64,212.28 L102.85,212.19 L104.06,212.13 L105.27,212.08 L106.48,212.05 L106.48,212.05 L106.58,225.88 L106.69,234.27 L106.79,239.36 L106.90,242.45 L107.00,244.32 L107.10,245.46 L107.21,246.15 L107.31,246.56 L108.52,237.85 L109.73,231.33 L110.94,226.45 L112.15,222.79 L113.36,220.06 L114.57,218.02 L115.78,216.49 L116.99,215.34 L118.21,214.49 L119.42,213.85 L120.63,213.37 L121.84,213.01 L123.05,212.74 L124.26,212.54 L125.47,212.39 L126.68,212.28 L127.89,212.19 L129.10,212.13 L130.31,212.08 L131.52,212.05 L131.52,212.05 L131.62,225.88 L131.73,234.27 L131.83,239.36 L131.93,242.45 L132.04,244.32 L132.14,245.46 L132.25,246.15 L132.35,246.56 L133.56,237.85 L134.77,231.33 L135.98,226.45 L137.19,222.79 L138.40,220.06 L139.61,218.02 L140.82,216.49 L142.03,215.34 L143.24,214.49 L144.45,213.85 L145.66,213.37 L146.87,213.01 L148.09,212.74 L149.30,212.54 L150.51,212.39 L151.72,212.28 L152.93,212.19 L154.14,212.13 L155.35,212.08 L156.56,212.05 L156.56,212.05 L156.66,225.88 L156.77,234.27 L156.87,239.36 L156.97,242.45 L157.08,244.32 L157.18,245.46 L157.29,246.15 L157.39,246.56 L158.60,237.85 L159.81,231.33 L161.02,226.45 L162.23,222.79 L163.44,220.06 L164.65,218.02 L165.86,216.49 L167.07,215.34 L168.28,214.49 L169.49,213.85 L170.70,213.37 L171.91,213.01 L173.12,212.74 L174.33,212.54 L175.54,212.39 L176.76,212.28 L177.97,212.19 L179.18,212.13 L180.39,212.08 L181.60,212.05 L181.60,269.57 L180.42,269.88 L179.25,270.20 L178.07,270.52 L176.90,270.85 L175.73,271.18 L174.55,271.52 L173.38,271.88 L172.21,272.24 L171.03,272.60 L169.86,272.98 L168.69,273.36 L167.51,273.76 L166.34,274.16 L165.16,274.57 L163.99,274.99 L162.82,275.42 L161.64,275.86 L160.47,276.31 L159.30,276.77 L158.12,277.24 L157.93,277.18 L157.73,277.07 L157.53,276.86 L157.34,276.51 L157.14,275.90 L156.95,274.81 L156.75,272.91 L156.56,269.57 L156.56,269.57 L155.38,269.88 L154.21,270.20 L153.04,270.52 L151.86,270.85 L150.69,271.18 L149.51,271.52 L148.34,271.88 L147.17,272.24 L145.99,272.60 L144.82,272.98 L143.65,273.36 L142.47,273.76 L141.30,274.16 L140.12,274.57 L138.95,274.99 L137.78,275.42 L136.60,275.86 L135.43,276.31 L134.26,276.77 L133.08,277.24 L132.89,277.18 L132.69,277.07 L132.50,276.86 L132.30,276.51 L132.10,275.90 L131.91,274.81 L131.71,272.91 L131.52,269.57 L131.52,269.57 L130.34,269.88 L129.17,270.20 L128.00,270.52 L126.82,270.85 L125.65,271.18 L124.48,271.52 L123.30,271.88 L122.13,272.24 L120.95,272.60 L119.78,272.98 L118.61,273.36 L117.43,273.76 L116.26,274.16 L115.09,274.57 L113.91,274.99 L112.74,275.42 L111.56,275.86 L110.39,276.31 L109.22,276.77 L108.04,277.24 L107.85,277.18 L107.65,277.07 L107.46,276.86 L107.26,276.51 L107.07,275.90 L106.87,274.81 L106.67,272.91 L106.48,269.57 L106.48,269.57 L105.30,269.88 L104.13,270.20 L102.96,270.52 L101.78,270.85 L100.61,271.18 L99.44,271.52 L98.26,271.88 L97.09,272.24 L95.91,272.60 L94.74,272.98 L93.57,273.36 L92.39,273.76 L91.22,274.16 L90.05,274.57 L88.87,274.99 L87.70,275.42 L86.53,275.86 L85.35,276.31 L84.18,276.77 L83.00,277.24 L82.81,277.18 L82.61,277.07 L82.42,276.86 L82.22,276.51 L82.03,275.90 L81.83,274.81 L81.63,272.91 L81.44,269.57 L81.44,269.57 L80.27,269.88 L79.09,270.20 L77.92,270.52 L76.74,270.85 L75.57,271.18 L74.40,271.52 L73.22,271.88 L72.05,272.24 L70.88,272.60 L69.70,272.98 L68.53,273.36 L67.35,273.76 L66.18,274.16 L65.01,274.57 L63.83,274.99 L62.66,275.42 L61.49,275.86 L60.31,276.31 L59.14,276.77 L57.96,277.24 L57.77,277.18 L57.57,277.07 L57.38,276.86 L57.18,276.51 L56.99,275.90 L56.79,274.81 L56.60,272.91 L56.40,269.57Z" fill="#f4c4b9"/>
<path d="M56.40,237.93 L56.66,242.35 L56.92,245.03 L57.18,246.66 L57.44,247.65 L57.70,248.24 L57.96,248.61 L58.23,248.83 L58.49,248.96 L59.63,246.76 L60.78,244.99 L61.93,243.57 L63.08,242.43 L64.22,241.51 L65.37,240.78 L66.52,240.19 L67.67,239.72 L68.82,239.34 L69.96,239.03 L71.11,238.79 L72.26,238.59 L73.41,238.44 L74.55,238.31 L75.70,238.21 L76.85,238.13 L78.00,238.06 L79.14,238.01 L80.29,237.97 L81.44,237.93 L81.44,237.93 L81.70,242.35 L81.96,245.03 L82.22,246.66 L82.48,247.65 L82.74,248.24 L83.00,248.61 L83.26,248.83 L83.53,248.96 L84.67,246.76 L85.82,244.99 L86.97,243.57 L88.12,242.43 L89.26,241.51 L90.41,240.78 L91.56,240.19 L92.71,239.72 L93.85,239.34 L95.00,239.03 L96.15,238.79 L97.30,238.59 L98.44,238.44 L99.59,238.31 L100.74,238.21 L101.89,238.13 L103.04,238.06 L104.18,238.01 L105.33,237.97 L106.48,237.93 L106.48,237.93 L106.74,242.35 L107.00,245.03 L107.26,246.66 L107.52,247.65 L107.78,248.24 L108.04,248.61 L108.30,248.83 L108.56,248.96 L109.71,246.76 L110.86,244.99 L112.01,243.57 L113.16,242.43 L114.30,241.51 L115.45,240.78 L116.60,240.19 L117.75,239.72 L118.89,239.34 L120.04,239.03 L121.19,238.79 L122.34,238.59 L123.48,238.44 L124.63,238.31 L125.78,238.21 L126.93,238.13 L128.07,238.06 L129.22,238.01 L130.37,237.97 L131.52,237.93 L131.52,237.93 L131.78,242.35 L132.04,245.03 L132.30,246.66 L132.56,247.65 L132.82,248.24 L133.08,248.61 L133.34,248.83 L133.60,248.96 L134.75,246.76 L135.90,244.99 L137.05,243.57 L138.19,242.43 L139.34,241.51 L140.49,240.78 L141.64,240.19 L142.79,239.72 L143.93,239.34 L145.08,239.03 L146.23,238.79 L147.38,238.59 L148.52,238.44 L149.67,238.31 L150.82,238.21 L151.97,238.13 L153.11,238.06 L154.26,238.01 L155.41,237.97 L156.56,237.93 L156.56,237.93 L156.82,242.35 L157.08,245.03 L157.34,246.66 L157.60,247.65 L157.86,248.24 L158.12,248.61 L158.38,248.83 L158.64,248.96 L159.79,246.76 L160.94,244.99 L162.09,243.57 L163.23,242.43 L164.38,241.51 L165.53,240.78 L166.68,240.19 L167.82,239.72 L168.97,239.34 L170.12,239.03 L171.27,238.79 L172.41,238.59 L173.56,238.44 L174.71,238.31 L175.86,238.21 L177.01,238.13 L178.15,238.06 L179.30,238.01 L180.45,237.97 L181.60,237.93 L181.60,261.90 L180.42,262.06 L179.25,262.22 L178.07,262.38 L176.90,262.55 L175.73,262.73 L174.55,262.91 L173.38,263.10 L172.21,263.29 L171.03,263.49 L169.86,263.70 L168.69,263.92 L167.51,264.14 L166.34,264.37 L165.16,264.61 L163.99,264.85 L162.82,265.11 L161.64,265.37 L160.47,265.64 L159.30,265.93 L158.12,266.22 L157.93,266.12 L157.73,265.97 L157.53,265.75 L157.34,265.43 L157.14,264.97 L156.95,264.30 L156.75,263.32 L156.56,261.90 L156.56,261.90 L155.38,262.06 L154.21,262.22 L153.04,262.38 L151.86,262.55 L150.69,262.73 L149.51,262.91 L148.34,263.10 L147.17,263.29 L145.99,263.49 L144.82,263.70 L143.65,263.92 L142.47,264.14 L141.30,264.37 L140.12,264.61 L138.95,264.85 L137.78,265.11 L136.60,265.37 L135.43,265.64 L134.26,265.93 L133.08,266.22 L132.89,266.12 L132.69,265.97 L132.50,265.75 L132.30,265.43 L132.10,264.97 L131.91,264.30 L131.71,263.32 L131.52,261.90 L131.52,261.90 L130.34,262.06 L129.17,262.22 L128.00,262.38 L126.82,262.55 L125.65,262.73 L124.48,262.91 L123.30,263.10 L122.13,263.29 L120.95,263.49 L119.78,263.70 L118.61,263.92 L117.43,264.14 L116.26,264.37 L115.09,264.61 L113.91,264.85 L112.74,265.11 L111.56,265.37 L110.39,265.64 L109.22,265.93 L108.04,266.22 L107.85,266.12 L107.65,265.97 L107.46,265.75 L107.26,265.43 L107.07,264.97 L106.87,264.30 L106.67,263.32 L106.48,261.90 L106.48,261.90 L105.30,262.06 L104.13,262.22 L102.96,262.38 L101.78,262.55 L100.61,262.73 L99.44,262.91 L98.26,263.10 L97.09,263.29 L95.91,263.49 L94.74,263.70 L93.57,263.92 L92.39,264.14 L91.22,264.37 L90.05,264.61 L88.87,264.85 L87.70,265.11 L86.53,265.37 L85.35,265.64 L84.18,265.93 L83.00,266.22 L82.81,266.12 L82.61,265.97 L82.42,265.75 L82.22,265.43 L82.03,264.97 L81.83,264.30 L81.63,263.32 L81.44,261.90 L81.44,261.90 L80.27,262.06 L79.09,262.22 L77.92,262.38 L76.74,262.55 L75.57,262.73 L74.40,262.91 L73.22,263.10 L72.05,263.29 L70.88,263.49 L69.70,263.70 L68.53,263.92 L67.35,264.14 L66.18,264.37 L65.01,264.61 L63.83,264.85 L62.66,265.11 L61.49,265.37 L60.31,265.64 L59.14,265.93 L57.96,266.22 L57.77,266.12 L57.57,265.97 L57.38,265.75 L57.18,265.43 L56.99,264.97 L56.79,264.30 L56.60,263.32 L56.40,261.90Z" fill="#e8958c"/>
<path d="M56.40,250.40 L56.66,252.68 L56.92,254.56 L57.18,256.09 L57.44,257.34 L57.70,258.37 L57.96,259.21 L58.23,259.90 L58.49,260.47 L59.63,259.13 L60.78,257.95 L61.93,256.92 L63.08,256.02 L64.22,255.23 L65.37,254.53 L66.52,253.93 L67.67,253.40 L68.82,252.93 L69.96,252.52 L71.11,252.16 L72.26,251.85 L73.41,251.57 L74.55,251.33 L75.70,251.12 L76.85,250.94 L78.00,250.77 L79.14,250.63 L80.29,250.51 L81.44,250.40 L81.44,250.40 L81.70,252.68 L81.96,254.56 L82.22,256.09 L82.48,257.34 L82.74,258.37 L83.00,259.21 L83.26,259.90 L83.53,260.47 L84.67,259.13 L85.82,257.95 L86.97,256.92 L88.12,256.02 L89.26,255.23 L90.41,254.53 L91.56,253.93 L92.71,253.40 L93.85,252.93 L95.00,252.52 L96.15,252.16 L97.30,251.85 L98.44,251.57 L99.59,251.33 L100.74,251.12 L101.89,250.94 L103.04,250.77 L104.18,250.63 L105.33,250.51 L106.48,250.40 L106.48,250.40 L106.74,252.68 L107.00,254.56 L107.26,256.09 L107.52,257.34 L107.78,258.37 L108.04,259.21 L108.30,259.90 L108.56,260.47 L109.71,259.13 L110.86,257.95 L112.01,256.92 L113.16,256.02 L114.30,255.23 L115.45,254.53 L116.60,253.93 L117.75,253.40 L118.89,252.93 L120.04,252.52 L121.19,252.16 L122.34,251.85 L123.48,251.57 L124.63,251.33 L125.78,251.12 L126.93,250.94 L128.07,250.77 L129.22,250.63 L130.37,250.51 L131.52,250.40 L131.52,250.40 L131.78,252.68 L132.04,254.56 L132.30,256.09 L132.56,257.34 L132.82,258.37 L133.08,259.21" fill="none" stroke="#b5172c" stroke-width="1.2" stroke-linejoin="round"/>
<path d="M273.00,212.05 L273.10,225.88 L273.21,234.27 L273.31,239.36 L273.42,242.45 L273.52,244.32 L273.63,245.46 L273.73,246.15 L273.83,246.56 L275.67,233.93 L277.51,225.80 L279.34,220.56 L281.18,217.19 L283.02,215.01 L284.85,213.61 L286.69,212.71 L288.52,212.13 L290.36,211.76 L292.20,211.52 L294.03,211.36 L295.87,211.26 L297.71,211.20 L299.54,211.16 L301.38,211.13 L303.21,211.11 L305.05,211.10 L306.89,211.09 L308.72,211.09 L310.56,211.09 L310.56,211.09 L310.66,224.35 L310.77,232.39 L310.87,237.26 L310.98,240.22 L311.08,242.02 L311.18,243.11 L311.29,243.77 L311.39,244.17 L311.98,239.94 L312.56,236.37 L313.15,233.35 L313.73,230.80 L314.31,228.64 L314.90,226.82 L315.48,225.28 L316.07,223.97 L316.65,222.87 L317.24,221.94 L317.82,221.15 L318.40,220.49 L318.99,219.93 L319.57,219.45 L320.16,219.05 L320.74,218.71 L321.33,218.42 L321.91,218.18 L322.49,217.97 L323.08,217.80 L323.08,217.80 L323.18,230.29 L323.29,237.86 L323.39,242.46 L323.50,245.25 L323.60,246.94 L323.70,247.96 L323.81,248.58 L323.91,248.96 L325.12,239.64 L326.33,232.66 L327.54,227.45 L328.75,223.54 L329.96,220.62 L331.17,218.43 L332.38,216.80 L333.59,215.57 L334.81,214.66 L336.02,213.97 L337.23,213.46 L338.44,213.07 L339.65,212.79 L340.86,212.57 L342.07,212.41 L343.28,212.29 L344.49,212.20 L345.70,212.13 L346.91,212.08 L348.12,212.05 L348.12,212.05 L348.22,225.88 L348.33,234.27 L348.43,239.36 L348.53,242.45 L348.64,244.32 L348.74,245.46 L348.85,246.15 L348.95,246.56 L350.16,237.85 L351.37,231.33 L352.58,226.45 L353.79,222.79 L355.00,220.06 L356.21,218.02 L357.42,216.49 L358.63,215.34 L359.84,214.49 L361.05,213.85 L362.26,213.37 L363.47,213.01 L364.69,212.74 L365.90,212.54 L367.11,212.39 L368.32,212.28 L369.53,212.19 L370.74,212.13 L371.95,212.08 L373.16,212.05 L373.16,212.05 L373.26,225.88 L373.37,234.27 L373.47,239.36 L373.57,242.45 L373.68,244.32 L373.78,245.46 L373.89,246.15 L373.99,246.56 L375.20,237.85 L376.41,231.33 L377.62,226.45 L378.83,222.79 L380.04,220.06 L381.25,218.02 L382.46,216.49 L383.67,215.34 L384.88,214.49 L386.09,213.85 L387.30,213.37 L388.51,213.01 L389.72,212.74 L390.93,212.54 L392.14,212.39 L393.36,212.28 L394.57,212.19 L395.78,212.13 L396.99,212.08 L398.20,212.05 L398.20,275.81 L397.02,275.86 L395.85,275.91 L394.67,275.97 L393.50,276.02 L392.33,276.08 L391.15,276.14 L389.98,276.20 L388.81,276.27 L387.63,276.34 L386.46,276.41 L385.29,276.48 L384.11,276.55 L382.94,276.63 L381.76,276.71 L380.59,276.79 L379.42,276.87 L378.24,276.96 L377.07,277.05 L375.90,277.15 L374.72,277.24 L374.53,277.21 L374.33,277.16 L374.13,277.09 L373.94,276.98 L373.74,276.83 L373.55,276.61 L373.35,276.28 L373.16,275.81 L373.16,275.81 L371.98,275.86 L370.81,275.91 L369.64,275.97 L368.46,276.02 L367.29,276.08 L366.11,276.14 L364.94,276.20 L363.77,276.27 L362.59,276.34 L361.42,276.41 L360.25,276.48 L359.07,276.55 L357.90,276.63 L356.72,276.71 L355.55,276.79 L354.38,276.87 L353.20,276.96 L352.03,277.05 L350.86,277.15 L349.68,277.24 L349.49,277.21 L349.29,277.16 L349.10,277.09 L348.90,276.98 L348.70,276.83 L348.51,276.61 L348.31,276.28 L348.12,275.81 L348.12,275.81 L346.94,275.91 L345.77,276.01 L344.60,276.12 L343.42,276.24 L342.25,276.35 L341.08,276.48 L339.90,276.60 L338.73,276.73 L337.55,276.87 L336.38,277.00 L335.21,277.15 L334.03,277.30 L332.86,277.45 L331.69,277.61 L330.51,277.77 L329.34,277.94 L328.16,278.12 L326.99,278.30 L325.82,278.49 L324.64,278.68 L324.45,278.64 L324.25,278.57 L324.06,278.47 L323.86,278.33 L323.67,278.13 L323.47,277.83 L323.27,277.40 L323.08,276.77 L323.08,276.77 L322.53,276.78 L321.98,276.80 L321.44,276.82 L320.89,276.84 L320.34,276.86 L319.79,276.88 L319.24,276.91 L318.70,276.93 L318.15,276.95 L317.60,276.97 L317.05,277.00 L316.51,277.02 L315.96,277.05 L315.41,277.07 L314.86,277.10 L314.31,277.13 L313.77,277.16 L313.22,277.18 L312.67,277.21 L312.12,277.24 L311.93,277.08 L311.73,276.85 L311.54,276.51 L311.34,276.02 L311.15,275.30 L310.95,274.26 L310.75,272.74 L310.56,270.53 L310.56,270.53 L308.76,270.73 L306.96,270.94 L305.16,271.15 L303.36,271.38 L301.56,271.62 L299.76,271.88 L297.96,272.15 L296.16,272.43 L294.36,272.73 L292.56,273.04 L290.76,273.37 L288.96,273.72 L287.16,274.08 L285.36,274.47 L283.56,274.87 L281.76,275.30 L279.96,275.75 L278.16,276.22 L276.36,276.72 L274.56,277.24 L274.37,277.21 L274.17,277.16 L273.98,277.09 L273.78,276.98 L273.59,276.83 L273.39,276.61 L273.20,276.28 L273.00,275.81Z" fill="#f7d4ca"/>
<path d="M273.00,212.05 L273.10,225.88 L273.21,234.27 L273.31,239.36 L273.42,242.45 L273.52,244.32 L273.63,245.46 L273.73,246.15 L273.83,246.56 L275.67,233.93 L277.51,225.80 L279.34,220.56 L281.18,217.19 L283.02,215.01 L284.85,213.61 L286.69,212.71 L288.52,212.13 L290.36,211.76 L292.20,211.52 L294.03,211.36 L295.87,211.26 L297.71,211.20 L299.54,211.16 L301.38,211.13 L303.21,211.11 L305.05,211.10 L306.89,211.09 L308.72,211.09 L310.56,211.09 L310.56,211.09 L310.66,224.35 L310.77,232.39 L310.87,237.26 L310.98,240.22 L311.08,242.02 L311.18,243.11 L311.29,243.77 L311.39,244.17 L311.98,239.94 L312.56,236.37 L313.15,233.35 L313.73,230.80 L314.31,228.64 L314.90,226.82 L315.48,225.28 L316.07,223.97 L316.65,222.87 L317.24,221.94 L317.82,221.15 L318.40,220.49 L318.99,219.93 L319.57,219.45 L320.16,219.05 L320.74,218.71 L321.33,218.42 L321.91,218.18 L322.49,217.97 L323.08,217.80 L323.08,217.80 L323.18,230.29 L323.29,237.86 L323.39,242.46 L323.50,245.25 L323.60,246.94 L323.70,247.96 L323.81,248.58 L323.91,248.96 L325.12,239.64 L326.33,232.66 L327.54,227.45 L328.75,223.54 L329.96,220.62 L331.17,218.43 L332.38,216.80 L333.59,215.57 L334.81,214.66 L336.02,213.97 L337.23,213.46 L338.44,213.07 L339.65,212.79 L340.86,212.57 L342.07,212.41 L343.28,212.29 L344.49,212.20 L345.70,212.13 L346.91,212.08 L348.12,212.05 L348.12,212.05 L348.22,225.88 L348.33,234.27 L348.43,239.36 L348.53,242.45 L348.64,244.32 L348.74,245.46 L348.85,246.15 L348.95,246.56 L350.16,237.85 L351.37,231.33 L352.58,226.45 L353.79,222.79 L355.00,220.06 L356.21,218.02 L357.42,216.49 L358.63,215.34 L359.84,214.49 L361.05,213.85 L362.26,213.37 L363.47,213.01 L364.69,212.74 L365.90,212.54 L367.11,212.39 L368.32,212.28 L369.53,212.19 L370.74,212.13 L371.95,212.08 L373.16,212.05 L373.16,212.05 L373.26,225.88 L373.37,234.27 L373.47,239.36 L373.57,242.45 L373.68,244.32 L373.78,245.46 L373.89,246.15 L373.99,246.56 L375.20,237.85 L376.41,231.33 L377.62,226.45 L378.83,222.79 L380.04,220.06 L381.25,218.02 L382.46,216.49 L383.67,215.34 L384.88,214.49 L386.09,213.85 L387.30,213.37 L388.51,213.01 L389.72,212.74 L390.93,212.54 L392.14,212.39 L393.36,212.28 L394.57,212.19 L395.78,212.13 L396.99,212.08 L398.20,212.05 L398.20,269.57 L397.02,269.88 L395.85,270.20 L394.67,270.52 L393.50,270.85 L392.33,271.18 L391.15,271.52 L389.98,271.88 L388.81,272.24 L387.63,272.60 L386.46,272.98 L385.29,273.36 L384.11,273.76 L382.94,274.16 L381.76,274.57 L380.59,274.99 L379.42,275.42 L378.24,275.86 L377.07,276.31 L375.90,276.77 L374.72,277.24 L374.53,277.18 L374.33,277.07 L374.13,276.86 L373.94,276.51 L373.74,275.90 L373.55,274.81 L373.35,272.91 L373.16,269.57 L373.16,269.57 L371.98,269.88 L370.81,270.20 L369.64,270.52 L368.46,270.85 L367.29,271.18 L366.11,271.52 L364.94,271.88 L363.77,272.24 L362.59,272.60 L361.42,272.98 L360.25,273.36 L359.07,273.76 L357.90,274.16 L356.72,274.57 L355.55,274.99 L354.38,275.42 L353.20,275.86 L352.03,276.31 L350.86,276.77 L349.68,277.24 L349.49,277.18 L349.29,277.07 L349.10,276.86 L348.90,276.51 L348.70,275.90 L348.51,274.81 L348.31,272.91 L348.12,269.57 L348.12,269.57 L346.94,269.94 L345.77,270.31 L344.60,270.69 L343.42,271.08 L342.25,271.48 L341.08,271.89 L339.90,272.31 L338.73,272.74 L337.55,273.17 L336.38,273.62 L335.21,274.08 L334.03,274.54 L332.86,275.02 L331.69,275.51 L330.51,276.01 L329.34,276.52 L328.16,277.04 L326.99,277.58 L325.82,278.12 L324.64,278.68 L324.45,278.63 L324.25,278.55 L324.06,278.40 L323.86,278.13 L323.67,277.67 L323.47,276.86 L323.27,275.43 L323.08,272.93 L323.08,272.93 L322.53,273.08 L321.98,273.23 L321.44,273.39 L320.89,273.54 L320.34,273.71 L319.79,273.88 L319.24,274.05 L318.70,274.23 L318.15,274.41 L317.60,274.60 L317.05,274.79 L316.51,274.99 L315.96,275.19 L315.41,275.40 L314.86,275.61 L314.31,275.83 L313.77,276.05 L313.22,276.28 L312.67,276.52 L312.12,276.77 L311.93,276.68 L311.73,276.52 L311.54,276.24 L311.34,275.76 L311.15,274.91 L310.95,273.42 L310.75,270.81 L310.56,266.22 L310.56,266.22 L308.76,266.61 L306.96,267.01 L305.16,267.43 L303.36,267.86 L301.56,268.31 L299.76,268.77 L297.96,269.25 L296.16,269.75 L294.36,270.26 L292.56,270.79 L290.76,271.34 L288.96,271.91 L287.16,272.50 L285.36,273.11 L283.56,273.74 L281.76,274.39 L279.96,275.07 L278.16,275.77 L276.36,276.49 L274.56,277.24 L274.37,277.18 L274.17,277.07 L273.98,276.86 L273.78,276.51 L273.59,275.90 L273.39,274.81 L273.20,272.91 L273.00,269.57Z" fill="#f4c4b9"/>
<path d="M273.00,237.93 L273.26,242.35 L273.52,245.03 L273.78,246.66 L274.04,247.65 L274.30,248.24 L274.56,248.61 L274.83,248.83 L275.09,248.96 L276.86,245.36 L278.63,242.80 L280.41,240.98 L282.18,239.68 L283.95,238.76 L285.73,238.10 L287.50,237.64 L289.28,237.30 L291.05,237.07 L292.82,236.90 L294.60,236.78 L296.37,236.69 L298.14,236.63 L299.92,236.59 L301.69,236.56 L303.46,236.54 L305.24,236.52 L307.01,236.51 L308.79,236.50 L310.56,236.50 L310.56,236.50 L310.82,241.49 L311.08,244.52 L311.34,246.36 L311.60,247.47 L311.86,248.15 L312.12,248.56 L312.38,248.81 L312.65,248.96 L313.17,247.70 L313.69,246.61 L314.21,245.67 L314.73,244.86 L315.25,244.17 L315.78,243.57 L316.30,243.06 L316.82,242.61 L317.34,242.23 L317.86,241.90 L318.38,241.62 L318.91,241.38 L319.43,241.17 L319.95,240.99 L320.47,240.84 L320.99,240.70 L321.51,240.59 L322.04,240.49 L322.56,240.40 L323.08,240.33 L323.08,240.33 L323.34,244.75 L323.60,247.43 L323.86,249.06 L324.12,250.04 L324.38,250.64 L324.64,251.00 L324.90,251.22 L325.16,251.36 L326.31,248.67 L327.46,246.52 L328.61,244.79 L329.76,243.40 L330.90,242.29 L332.05,241.40 L333.20,240.68 L334.35,240.11 L335.49,239.64 L336.64,239.27 L337.79,238.98 L338.94,238.74 L340.08,238.55 L341.23,238.39 L342.38,238.27 L343.53,238.17 L344.67,238.09 L345.82,238.03 L346.97,237.97 L348.12,237.93 L348.12,237.93 L348.38,242.35 L348.64,245.03 L348.90,246.66 L349.16,247.65 L349.42,248.24 L349.68,248.61 L349.94,248.83 L350.20,248.96 L351.35,246.76 L352.50,244.99 L353.65,243.57 L354.79,242.43 L355.94,241.51 L357.09,240.78 L358.24,240.19 L359.39,239.72 L360.53,239.34 L361.68,239.03 L362.83,238.79 L363.98,238.59 L365.12,238.44 L366.27,238.31 L367.42,238.21 L368.57,238.13 L369.71,238.06 L370.86,238.01 L372.01,237.97 L373.16,237.93 L373.16,237.93 L373.42,242.35 L373.68,245.03 L373.94,246.66 L374.20,247.65 L374.46,248.24 L374.72,248.61 L374.98,248.83 L375.24,248.96 L376.39,246.76 L377.54,244.99 L378.69,243.57 L379.83,242.43 L380.98,241.51 L382.13,240.78 L383.28,240.19 L384.42,239.72 L385.57,239.34 L386.72,239.03 L387.87,238.79 L389.01,238.59 L390.16,238.44 L391.31,238.31 L392.46,238.21 L393.61,238.13 L394.75,238.06 L395.90,238.01 L397.05,237.97 L398.20,237.93 L398.20,261.90 L397.02,262.06 L395.85,262.22 L394.67,262.38 L393.50,262.55 L392.33,262.73 L391.15,262.91 L389.98,263.10 L388.81,263.29 L387.63,263.49 L386.46,263.70 L385.29,263.92 L384.11,264.14 L382.94,264.37 L381.76,264.61 L380.59,264.85 L379.42,265.11 L378.24,265.37 L377.07,265.64 L375.90,265.93 L374.72,266.22 L374.53,266.12 L374.33,265.97 L374.13,265.75 L373.94,265.43 L373.74,264.97 L373.55,264.30 L373.35,263.32 L373.16,261.90 L373.16,261.90 L371.98,262.06 L370.81,262.22 L369.64,262.38 L368.46,262.55 L367.29,262.73 L366.11,262.91 L364.94,263.10 L363.77,263.29 L362.59,263.49 L361.42,263.70 L360.25,263.92 L359.07,264.14 L357.90,264.37 L356.72,264.61 L355.55,264.85 L354.38,265.11 L353.20,265.37 L352.03,265.64 L350.86,265.93 L349.68,266.22 L349.49,266.12 L349.29,265.97 L349.10,265.75 L348.90,265.43 L348.70,264.97 L348.51,264.30 L348.31,263.32 L348.12,261.90 L348.12,261.90 L346.94,262.16 L345.77,262.42 L344.60,262.70 L343.42,262.98 L342.25,263.27 L341.08,263.58 L339.90,263.89 L338.73,264.22 L337.55,264.55 L336.38,264.90 L335.21,265.26 L334.03,265.63 L332.86,266.01 L331.69,266.41 L330.51,266.82 L329.34,267.24 L328.16,267.68 L326.99,268.14 L325.82,268.61 L324.64,269.09 L324.45,268.98 L324.25,268.81 L324.06,268.57 L323.86,268.22 L323.67,267.71 L323.47,266.96 L323.27,265.88 L323.08,264.30 L323.08,264.30 L322.53,264.38 L321.98,264.47 L321.44,264.56 L320.89,264.66 L320.34,264.77 L319.79,264.87 L319.24,264.99 L318.70,265.11 L318.15,265.24 L317.60,265.37 L317.05,265.51 L316.51,265.66 L315.96,265.82 L315.41,265.98 L314.86,266.16 L314.31,266.34 L313.77,266.53 L313.22,266.74 L312.67,266.95 L312.12,267.18 L311.93,267.01 L311.73,266.76 L311.54,266.39 L311.34,265.87 L311.15,265.10 L310.95,263.98 L310.75,262.35 L310.56,259.99 L310.56,259.99 L308.76,260.17 L306.96,260.36 L305.16,260.56 L303.36,260.78 L301.56,261.00 L299.76,261.24 L297.96,261.49 L296.16,261.75 L294.36,262.02 L292.56,262.31 L290.76,262.62 L288.96,262.94 L287.16,263.28 L285.36,263.64 L283.56,264.01 L281.76,264.41 L279.96,264.83 L278.16,265.27 L276.36,265.73 L274.56,266.22 L274.37,266.12 L274.17,265.97 L273.98,265.75 L273.78,265.43 L273.59,264.97 L273.39,264.30 L273.20,263.32 L273.00,261.90Z" fill="#e8958c"/>
<path d="M273.00,250.88 L273.26,253.06 L273.52,254.84 L273.78,256.30 L274.04,257.49 L274.30,258.47 L274.56,259.27 L274.83,259.93 L275.09,260.47 L276.86,258.13 L278.63,256.22 L280.41,254.66 L282.18,253.39 L283.95,252.36 L285.73,251.52 L287.50,250.83 L289.28,250.27 L291.05,249.81 L292.82,249.44 L294.60,249.13 L296.37,248.88 L298.14,248.68 L299.92,248.52 L301.69,248.38 L303.46,248.27 L305.24,248.18 L307.01,248.11 L308.79,248.05 L310.56,248.00 L310.56,248.00 L310.82,250.51 L311.08,252.56 L311.34,254.23 L311.60,255.61 L311.86,256.73 L312.12,257.66 L312.38,258.41 L312.65,259.03 L313.17,258.39 L313.69,257.82 L314.21,257.30 L314.73,256.83 L315.25,256.41 L315.78,256.03 L316.30,255.68 L316.82,255.36 L317.34,255.08 L317.86,254.82 L318.38,254.59 L318.91,254.38 L319.43,254.19 L319.95,254.01 L320.47,253.86 L320.99,253.72 L321.51,253.59 L322.04,253.47 L322.56,253.37 L323.08,253.27 L323.08,253.27 L323.34,255.45 L323.60,257.24 L323.86,258.69 L324.12,259.89 L324.38,260.87 L324.64,261.67 L324.90,262.33 L325.16,262.86 L326.31,261.20 L327.46,259.75 L328.61,258.47 L329.76,257.36 L330.90,256.38 L332.05,255.52 L333.20,254.77 L334.35,254.11 L335.49,253.53 L336.64,253.03 L337.79,252.58 L338.94,252.19 L340.08,251.85 L341.23,251.56 L342.38,251.29 L343.53,251.06 L344.67,250.86 L345.82,250.69 L346.97,250.53 L348.12,250.40 L348.12,250.40 L348.38,252.68 L348.64,254.56 L348.90,256.09 L349.16,257.34 L349.42,258.37 L349.68,259.21 L349.94,259.90 L350.20,260.47 L351.35,259.13 L352.50,257.95 L353.65,256.92 L354.79,256.02 L355.94,255.23 L357.09,254.53 L358.24,253.93 L359.39,253.40 L360.53,252.93 L361.68,252.52 L362.83,252.16 L363.98,251.85 L365.12,251.57 L366.27,251.33 L367.42,251.12 L368.57,250.94 L369.71,250.77 L370.86,250.63 L372.01,250.51 L373.16,250.40 L373.16,250.40 L373.42,252.68 L373.68,254.56 L373.94,256.09 L374.20,257.34 L374.46,258.37 L374.72,259.21 L374.98,259.90 L375.24,260.47 L376.39,259.13 L377.54,257.95 L378.69,256.92 L379.83,256.02 L380.98,255.23 L382.13,254.53 L383.28,253.93 L384.42,253.40 L385.57,252.93 L386.72,252.52 L387.87,252.16 L389.01,251.85 L390.16,251.57 L391.31,251.33 L392.46,251.12 L393.61,250.94 L394.75,250.77 L395.90,250.63 L397.05,250.51 L398.20,250.40" fill="none" stroke="#b5172c" stroke-width="1.2" stroke-linejoin="round"/>
<rect x="133.50" y="88.00" width="46.70" height="20.30" fill="#fff" fill-opacity="0.50"/>
<path d="M155.80,77.60 V88.00" stroke="#2a1a1a" stroke-width="0.9"/>
<path d="M154.10,78.40 L155.80,75.60 L157.50,78.40 Z" fill="#1a1010"/>
<path d="M155.80,108.30 V121.40" stroke="#2a1a1a" stroke-width="0.9"/>
<path d="M154.10,120.60 L155.80,123.40 L157.50,120.60 Z" fill="#1a1010"/>
<text x="156.00" y="96.50" font-size="8.00" text-anchor="middle" fill="#2e2626" textLength="36.3" lengthAdjust="spacingAndGlyphs" stroke="#2e2626" stroke-width="0.15">On-therapy</text>
<text x="156.00" y="104.70" font-size="8.00" text-anchor="middle" fill="#2e2626" textLength="18.6" lengthAdjust="spacingAndGlyphs" stroke="#2e2626" stroke-width="0.15">range</text>
<rect x="132.90" y="235.80" width="49.10" height="33.80" fill="#fff" fill-opacity="0.45"/>
<path d="M157.50,238.00 V243.20" stroke="#2a1a1a" stroke-width="0.9"/>
<path d="M155.80,238.80 L157.50,236.00 L159.20,238.80 Z" fill="#1a1010"/>
<path d="M157.50,263.10 V268.30" stroke="#2a1a1a" stroke-width="0.9"/>
<path d="M155.80,267.50 L157.50,270.30 L159.20,267.50 Z" fill="#1a1010"/>
<text x="157.70" y="250.60" font-size="8.00" text-anchor="middle" fill="#2e2626" textLength="36.3" lengthAdjust="spacingAndGlyphs" stroke="#2e2626" stroke-width="0.15">On-therapy</text>
<text x="157.70" y="258.80" font-size="8.00" text-anchor="middle" fill="#2e2626" textLength="18.6" lengthAdjust="spacingAndGlyphs" stroke="#2e2626" stroke-width="0.15">range</text>
<path d="M50.70,74.30 H185.60" stroke="#111" stroke-width="1.5" stroke-dasharray="5 4.9"/>
<path d="M50.70,124.30 H185.60" stroke="#111" stroke-width="1.5" stroke-dasharray="5 4.9"/>
<path d="M50.70,234.80 H185.60" stroke="#111" stroke-width="1.5" stroke-dasharray="5 4.9"/>
<path d="M50.70,270.30 H185.60" stroke="#111" stroke-width="1.5" stroke-dasharray="5 4.9"/>
<path d="M267.30,74.30 H402.20" stroke="#111" stroke-width="1.5" stroke-dasharray="5 4.9"/>
<path d="M267.30,124.30 H402.20" stroke="#111" stroke-width="1.5" stroke-dasharray="5 4.9"/>
<path d="M267.30,234.80 H402.20" stroke="#111" stroke-width="1.5" stroke-dasharray="5 4.9"/>
<path d="M267.30,270.30 H402.20" stroke="#111" stroke-width="1.5" stroke-dasharray="5 4.9"/>
<rect x="295.5" y="121.7" width="16" height="3.1" fill="#111"/>
<rect x="324.0" y="72.2" width="8.3" height="3.3" fill="#111"/>
<rect x="347.6" y="72.2" width="4.8" height="3.3" fill="#111"/>
<rect x="294.8" y="233.1" width="17.2" height="3.4" fill="#111"/>
<rect x="323.9" y="268.6" width="4.5" height="3.1" fill="#111"/>
<rect x="190.50" y="87.78" width="1.50" height="0.95" fill="#f5bcc3" stroke="#d25a72" stroke-width="0.3"/>
<rect x="190.50" y="89.28" width="3.31" height="0.95" fill="#f5bcc3" stroke="#d25a72" stroke-width="0.3"/>
<rect x="190.50" y="90.78" width="5.12" height="0.95" fill="#f5bcc3" stroke="#d25a72" stroke-width="0.3"/>
<rect x="190.50" y="92.28" width="6.93" height="0.95" fill="#f5bcc3" stroke="#d25a72" stroke-width="0.3"/>
<rect x="190.50" y="93.78" width="8.74" height="0.95" fill="#f5bcc3" stroke="#d25a72" stroke-width="0.3"/>
<rect x="190.50" y="95.28" width="10.55" height="0.95" fill="#f5bcc3" stroke="#d25a72" stroke-width="0.3"/>
<rect x="190.50" y="96.78" width="12.36" height="0.95" fill="#f5bcc3" stroke="#d25a72" stroke-width="0.3"/>
<rect x="190.50" y="98.28" width="14.16" height="0.95" fill="#f5bcc3" stroke="#d25a72" stroke-width="0.3"/>
<rect x="190.50" y="99.78" width="15.97" height="0.95" fill="#f5bcc3" stroke="#d25a72" stroke-width="0.3"/>
<rect x="190.50" y="101.28" width="17.44" height="0.95" fill="#f5bcc3" stroke="#d25a72" stroke-width="0.3"/>
<rect x="190.50" y="102.78" width="15.84" height="0.95" fill="#f5bcc3" stroke="#d25a72" stroke-width="0.3"/>
<rect x="190.50" y="104.28" width="14.23" height="0.95" fill="#f5bcc3" stroke="#d25a72" stroke-width="0.3"/>
<rect x="190.50" y="105.78" width="12.63" height="0.95" fill="#f5bcc3" stroke="#d25a72" stroke-width="0.3"/>
<rect x="190.50" y="107.28" width="11.02" height="0.95" fill="#f5bcc3" stroke="#d25a72" stroke-width="0.3"/>
<rect x="190.50" y="108.78" width="9.42" height="0.95" fill="#f5bcc3" stroke="#d25a72" stroke-width="0.3"/>
<rect x="190.50" y="110.28" width="7.82" height="0.95" fill="#f5bcc3" stroke="#d25a72" stroke-width="0.3"/>
<rect x="190.50" y="111.78" width="6.21" height="0.95" fill="#f5bcc3" stroke="#d25a72" stroke-width="0.3"/>
<rect x="190.50" y="113.28" width="4.61" height="0.95" fill="#f5bcc3" stroke="#d25a72" stroke-width="0.3"/>
<rect x="190.50" y="114.78" width="3.01" height="0.95" fill="#f5bcc3" stroke="#d25a72" stroke-width="0.3"/>
<rect x="190.50" y="116.28" width="1.40" height="0.95" fill="#f5bcc3" stroke="#d25a72" stroke-width="0.3"/>
<path d="M190.50,81.70 V122.10" stroke="#b52f49" stroke-width="0.9"/>
<rect x="191.90" y="222.75" width="2.82" height="2.10" fill="#f5bcc3" stroke="#d25a72" stroke-width="0.3"/>
<rect x="191.90" y="225.75" width="5.46" height="2.10" fill="#f5bcc3" stroke="#d25a72" stroke-width="0.3"/>
<rect x="191.90" y="228.75" width="8.10" height="2.10" fill="#f5bcc3" stroke="#d25a72" stroke-width="0.3"/>
<rect x="191.90" y="231.75" width="10.74" height="2.10" fill="#f5bcc3" stroke="#d25a72" stroke-width="0.3"/>
<rect x="191.90" y="234.75" width="13.38" height="2.10" fill="#f5bcc3" stroke="#d25a72" stroke-width="0.3"/>
<rect x="191.90" y="237.75" width="16.02" height="2.10" fill="#f5bcc3" stroke="#d25a72" stroke-width="0.3"/>
<rect x="191.90" y="240.75" width="14.45" height="2.10" fill="#f5bcc3" stroke="#d25a72" stroke-width="0.3"/>
<rect x="191.90" y="243.75" width="12.57" height="2.10" fill="#f5bcc3" stroke="#d25a72" stroke-width="0.3"/>
<rect x="191.90" y="246.75" width="10.70" height="2.10" fill="#f5bcc3" stroke="#d25a72" stroke-width="0.3"/>
<rect x="191.90" y="249.75" width="8.82" height="2.10" fill="#f5bcc3" stroke="#d25a72" stroke-width="0.3"/>
<rect x="191.90" y="252.75" width="6.94" height="2.10" fill="#f5bcc3" stroke="#d25a72" stroke-width="0.3"/>
<rect x="191.90" y="255.75" width="5.07" height="2.10" fill="#f5bcc3" stroke="#d25a72" stroke-width="0.3"/>
<rect x="191.90" y="258.75" width="3.19" height="2.10" fill="#f5bcc3" stroke="#d25a72" stroke-width="0.3"/>
<rect x="191.90" y="261.75" width="1.31" height="2.10" fill="#f5bcc3" stroke="#d25a72" stroke-width="0.3"/>
<path d="M191.90,212.90 V271.90" stroke="#b52f49" stroke-width="0.9"/>
<circle cx="56.40" cy="131.80" r="4.40" fill="url(#pg)"/>
<path d="M58.82,129.38 L53.98,134.22" stroke="#f9dcd5" stroke-width="1.0" stroke-opacity="0.9"/>
<circle cx="56.40" cy="288.00" r="4.40" fill="url(#pg)"/>
<path d="M58.82,285.58 L53.98,290.42" stroke="#f9dcd5" stroke-width="1.0" stroke-opacity="0.9"/>
<circle cx="81.44" cy="131.80" r="4.40" fill="url(#pg)"/>
<path d="M83.86,129.38 L79.02,134.22" stroke="#f9dcd5" stroke-width="1.0" stroke-opacity="0.9"/>
<circle cx="81.44" cy="288.00" r="4.40" fill="url(#pg)"/>
<path d="M83.86,285.58 L79.02,290.42" stroke="#f9dcd5" stroke-width="1.0" stroke-opacity="0.9"/>
<circle cx="106.48" cy="131.80" r="4.40" fill="url(#pg)"/>
<path d="M108.90,129.38 L104.06,134.22" stroke="#f9dcd5" stroke-width="1.0" stroke-opacity="0.9"/>
<circle cx="106.48" cy="288.00" r="4.40" fill="url(#pg)"/>
<path d="M108.90,285.58 L104.06,290.42" stroke="#f9dcd5" stroke-width="1.0" stroke-opacity="0.9"/>
<circle cx="131.52" cy="131.80" r="4.40" fill="url(#pg)"/>
<path d="M133.94,129.38 L129.10,134.22" stroke="#f9dcd5" stroke-width="1.0" stroke-opacity="0.9"/>
<circle cx="131.52" cy="288.00" r="4.40" fill="url(#pg)"/>
<path d="M133.94,285.58 L129.10,290.42" stroke="#f9dcd5" stroke-width="1.0" stroke-opacity="0.9"/>
<circle cx="156.56" cy="131.80" r="4.40" fill="url(#pg)"/>
<path d="M158.98,129.38 L154.14,134.22" stroke="#f9dcd5" stroke-width="1.0" stroke-opacity="0.9"/>
<circle cx="156.56" cy="288.00" r="4.40" fill="url(#pg)"/>
<path d="M158.98,285.58 L154.14,290.42" stroke="#f9dcd5" stroke-width="1.0" stroke-opacity="0.9"/>
<circle cx="181.60" cy="131.80" r="4.40" fill="url(#pg)"/>
<path d="M184.02,129.38 L179.18,134.22" stroke="#f9dcd5" stroke-width="1.0" stroke-opacity="0.9"/>
<circle cx="181.60" cy="288.00" r="4.40" fill="url(#pg)"/>
<path d="M184.02,285.58 L179.18,290.42" stroke="#f9dcd5" stroke-width="1.0" stroke-opacity="0.9"/>
<circle cx="273.00" cy="131.80" r="4.40" fill="url(#pg)"/>
<path d="M275.42,129.38 L270.58,134.22" stroke="#f9dcd5" stroke-width="1.0" stroke-opacity="0.9"/>
<circle cx="273.00" cy="288.00" r="4.40" fill="url(#pg)"/>
<path d="M275.42,285.58 L270.58,290.42" stroke="#f9dcd5" stroke-width="1.0" stroke-opacity="0.9"/>
<circle cx="323.08" cy="131.80" r="4.40" fill="url(#pg)"/>
<path d="M325.50,129.38 L320.66,134.22" stroke="#f9dcd5" stroke-width="1.0" stroke-opacity="0.9"/>
<circle cx="323.08" cy="288.00" r="4.40" fill="url(#pg)"/>
<path d="M325.50,285.58 L320.66,290.42" stroke="#f9dcd5" stroke-width="1.0" stroke-opacity="0.9"/>
<circle cx="348.12" cy="131.80" r="4.40" fill="url(#pg)"/>
<path d="M350.54,129.38 L345.70,134.22" stroke="#f9dcd5" stroke-width="1.0" stroke-opacity="0.9"/>
<circle cx="348.12" cy="288.00" r="4.40" fill="url(#pg)"/>
<path d="M350.54,285.58 L345.70,290.42" stroke="#f9dcd5" stroke-width="1.0" stroke-opacity="0.9"/>
<circle cx="373.16" cy="131.80" r="4.40" fill="url(#pg)"/>
<path d="M375.58,129.38 L370.74,134.22" stroke="#f9dcd5" stroke-width="1.0" stroke-opacity="0.9"/>
<circle cx="373.16" cy="288.00" r="4.40" fill="url(#pg)"/>
<path d="M375.58,285.58 L370.74,290.42" stroke="#f9dcd5" stroke-width="1.0" stroke-opacity="0.9"/>
<circle cx="398.20" cy="131.80" r="4.40" fill="url(#pg)"/>
<path d="M400.62,129.38 L395.78,134.22" stroke="#f9dcd5" stroke-width="1.0" stroke-opacity="0.9"/>
<circle cx="398.20" cy="288.00" r="4.40" fill="url(#pg)"/>
<path d="M400.62,285.58 L395.78,290.42" stroke="#f9dcd5" stroke-width="1.0" stroke-opacity="0.9"/>
<circle cx="298.04" cy="131.40" r="4.20" fill="none" stroke="#3a3a3a" stroke-width="0.95" stroke-dasharray="2.0 1.45"/>
<path d="M299.93,129.51 L296.15,133.29" stroke="#555" stroke-width="0.8" stroke-dasharray="1.1 1.1"/>
<circle cx="298.04" cy="287.70" r="4.20" fill="none" stroke="#3a3a3a" stroke-width="0.95" stroke-dasharray="2.0 1.45"/>
<path d="M299.93,285.81 L296.15,289.59" stroke="#555" stroke-width="0.8" stroke-dasharray="1.1 1.1"/>
<path d="M312.37,127.89 A4.40,4.40 0 0 1 306.15,134.11 Z" fill="url(#pg)"/>
<path d="M312.37,284.09 A4.40,4.40 0 0 1 306.15,290.31 Z" fill="url(#pg)"/>
<path d="M50.50,35.40 V139.20 H187.60" fill="none" stroke="#111" stroke-width="1.25"/>
<path d="M48.10,124.30 H50.50" stroke="#111" stroke-width="1"/>
<text x="44.40" y="127.10" font-size="7.80" text-anchor="end" fill="#222" >0</text>
<path d="M48.10,110.30 H50.50" stroke="#111" stroke-width="1"/>
<text x="44.40" y="113.10" font-size="7.80" text-anchor="end" fill="#222" >100</text>
<path d="M48.10,96.30 H50.50" stroke="#111" stroke-width="1"/>
<text x="44.40" y="99.10" font-size="7.80" text-anchor="end" fill="#222" >200</text>
<path d="M48.10,82.30 H50.50" stroke="#111" stroke-width="1"/>
<text x="44.40" y="85.10" font-size="7.80" text-anchor="end" fill="#222" >300</text>
<path d="M48.10,68.30 H50.50" stroke="#111" stroke-width="1"/>
<text x="44.40" y="71.10" font-size="7.80" text-anchor="end" fill="#222" >400</text>
<path d="M48.10,54.30 H50.50" stroke="#111" stroke-width="1"/>
<text x="44.40" y="57.10" font-size="7.80" text-anchor="end" fill="#222" >500</text>
<path d="M48.10,40.30 H50.50" stroke="#111" stroke-width="1"/>
<text x="44.40" y="43.10" font-size="7.80" text-anchor="end" fill="#222" >600</text>
<path d="M56.40,139.20 V142.50" stroke="#111" stroke-width="1"/>
<text x="56.40" y="151.80" font-size="7.50" text-anchor="middle" fill="#222" >0</text>
<path d="M81.44,139.20 V142.50" stroke="#111" stroke-width="1"/>
<text x="81.44" y="151.80" font-size="7.50" text-anchor="middle" fill="#222" >24</text>
<path d="M106.48,139.20 V142.50" stroke="#111" stroke-width="1"/>
<text x="106.48" y="151.80" font-size="7.50" text-anchor="middle" fill="#222" >48</text>
<path d="M131.52,139.20 V142.50" stroke="#111" stroke-width="1"/>
<text x="131.52" y="151.80" font-size="7.50" text-anchor="middle" fill="#222" >72</text>
<path d="M156.56,139.20 V142.50" stroke="#111" stroke-width="1"/>
<text x="156.56" y="151.80" font-size="7.50" text-anchor="middle" fill="#222" >96</text>
<path d="M181.60,139.20 V142.50" stroke="#111" stroke-width="1"/>
<text x="181.60" y="151.80" font-size="7.50" text-anchor="middle" fill="#222" >120</text>
<text x="119.25" y="164.80" font-size="10.00" text-anchor="middle" fill="#222" textLength="23.7" lengthAdjust="spacingAndGlyphs" stroke="#222" stroke-width="0.2">Time (h)</text>
<text transform="translate(25.80,86.90) rotate(-90)" x="0" y="0" font-size="9.4" text-anchor="middle" fill="#222" stroke="#222" stroke-width="0.3" textLength="39.0" lengthAdjust="spacingAndGlyphs">Concentration</text>
<path d="M267.10,35.40 V139.20 H404.20" fill="none" stroke="#111" stroke-width="1.25"/>
<path d="M264.70,124.30 H267.10" stroke="#111" stroke-width="1"/>
<text x="261.00" y="127.10" font-size="7.80" text-anchor="end" fill="#222" >0</text>
<path d="M264.70,110.30 H267.10" stroke="#111" stroke-width="1"/>
<text x="261.00" y="113.10" font-size="7.80" text-anchor="end" fill="#222" >100</text>
<path d="M264.70,96.30 H267.10" stroke="#111" stroke-width="1"/>
<text x="261.00" y="99.10" font-size="7.80" text-anchor="end" fill="#222" >200</text>
<path d="M264.70,82.30 H267.10" stroke="#111" stroke-width="1"/>
<text x="261.00" y="85.10" font-size="7.80" text-anchor="end" fill="#222" >300</text>
<path d="M264.70,68.30 H267.10" stroke="#111" stroke-width="1"/>
<text x="261.00" y="71.10" font-size="7.80" text-anchor="end" fill="#222" >400</text>
<path d="M264.70,54.30 H267.10" stroke="#111" stroke-width="1"/>
<text x="261.00" y="57.10" font-size="7.80" text-anchor="end" fill="#222" >500</text>
<path d="M264.70,40.30 H267.10" stroke="#111" stroke-width="1"/>
<text x="261.00" y="43.10" font-size="7.80" text-anchor="end" fill="#222" >600</text>
<path d="M273.00,139.20 V142.50" stroke="#111" stroke-width="1"/>
<text x="273.00" y="151.80" font-size="7.50" text-anchor="middle" fill="#222" >0</text>
<path d="M298.04,139.20 V142.50" stroke="#111" stroke-width="1"/>
<text x="298.04" y="151.80" font-size="7.50" text-anchor="middle" fill="#222" >24</text>
<path d="M323.08,139.20 V142.50" stroke="#111" stroke-width="1"/>
<text x="323.08" y="151.80" font-size="7.50" text-anchor="middle" fill="#222" >48</text>
<path d="M348.12,139.20 V142.50" stroke="#111" stroke-width="1"/>
<text x="348.12" y="151.80" font-size="7.50" text-anchor="middle" fill="#222" >72</text>
<path d="M373.16,139.20 V142.50" stroke="#111" stroke-width="1"/>
<text x="373.16" y="151.80" font-size="7.50" text-anchor="middle" fill="#222" >96</text>
<path d="M398.20,139.20 V142.50" stroke="#111" stroke-width="1"/>
<text x="398.20" y="151.80" font-size="7.50" text-anchor="middle" fill="#222" >120</text>
<text x="335.85" y="164.80" font-size="10.00" text-anchor="middle" fill="#222" textLength="23.7" lengthAdjust="spacingAndGlyphs" stroke="#222" stroke-width="0.2">Time (h)</text>
<text transform="translate(241.60,86.90) rotate(-90)" x="0" y="0" font-size="9.4" text-anchor="middle" fill="#222" stroke="#222" stroke-width="0.3" textLength="39.0" lengthAdjust="spacingAndGlyphs">Concentration</text>
<path d="M50.50,197.50 V301.60 H187.60" fill="none" stroke="#111" stroke-width="1.25"/>
<path d="M48.10,296.90 H50.50" stroke="#111" stroke-width="1"/>
<text x="44.40" y="299.70" font-size="7.80" text-anchor="end" fill="#222" >0</text>
<path d="M48.10,282.63 H50.50" stroke="#111" stroke-width="1"/>
<text x="44.40" y="285.43" font-size="7.80" text-anchor="end" fill="#222" >30</text>
<path d="M48.10,268.36 H50.50" stroke="#111" stroke-width="1"/>
<text x="44.40" y="271.16" font-size="7.80" text-anchor="end" fill="#222" >60</text>
<path d="M48.10,254.10 H50.50" stroke="#111" stroke-width="1"/>
<text x="44.40" y="256.90" font-size="7.80" text-anchor="end" fill="#222" >90</text>
<path d="M48.10,239.83 H50.50" stroke="#111" stroke-width="1"/>
<text x="44.40" y="242.63" font-size="7.80" text-anchor="end" fill="#222" >120</text>
<path d="M48.10,225.56 H50.50" stroke="#111" stroke-width="1"/>
<text x="44.40" y="228.36" font-size="7.80" text-anchor="end" fill="#222" >150</text>
<path d="M48.10,211.29 H50.50" stroke="#111" stroke-width="1"/>
<text x="44.40" y="214.09" font-size="7.80" text-anchor="end" fill="#222" >180</text>
<path d="M56.40,301.60 V304.90" stroke="#111" stroke-width="1"/>
<text x="56.40" y="314.20" font-size="7.50" text-anchor="middle" fill="#222" >0</text>
<path d="M81.44,301.60 V304.90" stroke="#111" stroke-width="1"/>
<text x="81.44" y="314.20" font-size="7.50" text-anchor="middle" fill="#222" >24</text>
<path d="M106.48,301.60 V304.90" stroke="#111" stroke-width="1"/>
<text x="106.48" y="314.20" font-size="7.50" text-anchor="middle" fill="#222" >48</text>
<path d="M131.52,301.60 V304.90" stroke="#111" stroke-width="1"/>
<text x="131.52" y="314.20" font-size="7.50" text-anchor="middle" fill="#222" >72</text>
<path d="M156.56,301.60 V304.90" stroke="#111" stroke-width="1"/>
<text x="156.56" y="314.20" font-size="7.50" text-anchor="middle" fill="#222" >96</text>
<path d="M181.60,301.60 V304.90" stroke="#111" stroke-width="1"/>
<text x="181.60" y="314.20" font-size="7.50" text-anchor="middle" fill="#222" >120</text>
<text x="119.25" y="327.20" font-size="10.00" text-anchor="middle" fill="#222" textLength="23.7" lengthAdjust="spacingAndGlyphs" stroke="#222" stroke-width="0.2">Time (h)</text>
<text transform="translate(25.80,249.30) rotate(-90)" x="0" y="0" font-size="9.4" text-anchor="middle" fill="#222" stroke="#222" stroke-width="0.3" textLength="46.0" lengthAdjust="spacingAndGlyphs">FXa activity (%)</text>
<path d="M267.10,197.50 V301.60 H404.20" fill="none" stroke="#111" stroke-width="1.25"/>
<path d="M264.70,296.90 H267.10" stroke="#111" stroke-width="1"/>
<text x="261.00" y="299.70" font-size="7.80" text-anchor="end" fill="#222" >0</text>
<path d="M264.70,282.63 H267.10" stroke="#111" stroke-width="1"/>
<text x="261.00" y="285.43" font-size="7.80" text-anchor="end" fill="#222" >30</text>
<path d="M264.70,268.36 H267.10" stroke="#111" stroke-width="1"/>
<text x="261.00" y="271.16" font-size="7.80" text-anchor="end" fill="#222" >60</text>
<path d="M264.70,254.10 H267.10" stroke="#111" stroke-width="1"/>
<text x="261.00" y="256.90" font-size="7.80" text-anchor="end" fill="#222" >90</text>
<path d="M264.70,239.83 H267.10" stroke="#111" stroke-width="1"/>
<text x="261.00" y="242.63" font-size="7.80" text-anchor="end" fill="#222" >120</text>
<path d="M264.70,225.56 H267.10" stroke="#111" stroke-width="1"/>
<text x="261.00" y="228.36" font-size="7.80" text-anchor="end" fill="#222" >150</text>
<path d="M264.70,211.29 H267.10" stroke="#111" stroke-width="1"/>
<text x="261.00" y="214.09" font-size="7.80" text-anchor="end" fill="#222" >180</text>
<path d="M273.00,301.60 V304.90" stroke="#111" stroke-width="1"/>
<text x="273.00" y="314.20" font-size="7.50" text-anchor="middle" fill="#222" >0</text>
<path d="M298.04,301.60 V304.90" stroke="#111" stroke-width="1"/>
<text x="298.04" y="314.20" font-size="7.50" text-anchor="middle" fill="#222" >24</text>
<path d="M323.08,301.60 V304.90" stroke="#111" stroke-width="1"/>
<text x="323.08" y="314.20" font-size="7.50" text-anchor="middle" fill="#222" >48</text>
<path d="M348.12,301.60 V304.90" stroke="#111" stroke-width="1"/>
<text x="348.12" y="314.20" font-size="7.50" text-anchor="middle" fill="#222" >72</text>
<path d="M373.16,301.60 V304.90" stroke="#111" stroke-width="1"/>
<text x="373.16" y="314.20" font-size="7.50" text-anchor="middle" fill="#222" >96</text>
<path d="M398.20,301.60 V304.90" stroke="#111" stroke-width="1"/>
<text x="398.20" y="314.20" font-size="7.50" text-anchor="middle" fill="#222" >120</text>
<text x="335.85" y="327.20" font-size="10.00" text-anchor="middle" fill="#222" textLength="23.7" lengthAdjust="spacingAndGlyphs" stroke="#222" stroke-width="0.2">Time (h)</text>
<text transform="translate(241.60,249.30) rotate(-90)" x="0" y="0" font-size="9.4" text-anchor="middle" fill="#222" stroke="#222" stroke-width="0.3" textLength="46.0" lengthAdjust="spacingAndGlyphs">FXa activity (%)</text>
<text x="119.20" y="29.80" font-size="9.50" text-anchor="middle" font-style="italic" fill="#2a2a2a" textLength="58.5" lengthAdjust="spacingAndGlyphs" >Full adherence</text>
<text x="335.60" y="29.80" font-size="9.50" text-anchor="middle" font-style="italic" fill="#2a2a2a" textLength="126.0" lengthAdjust="spacingAndGlyphs" >Dose was delayed for 12 hours</text>
<text x="6.80" y="16.00" font-size="10.80" text-anchor="start" font-weight="bold" fill="#111" stroke="#111" stroke-width="0.3">A</text>
<text x="223.60" y="16.00" font-size="10.80" text-anchor="start" font-weight="bold" fill="#111" stroke="#111" stroke-width="0.3">B</text>
<text x="6.80" y="191.80" font-size="10.80" text-anchor="start" font-weight="bold" fill="#111" stroke="#111" stroke-width="0.3">C</text>
<text x="223.60" y="191.80" font-size="10.80" text-anchor="start" font-weight="bold" fill="#111" stroke="#111" stroke-width="0.3">D</text>
<path d="M416.8,117.5 H431.5" stroke="#111" stroke-width="1.05" stroke-dasharray="2.6 3.3"/>
<text x="435.00" y="120.00" font-size="6.85" text-anchor="start" fill="#222" >On-therapy range</text>
<rect x="417.0" y="129.2" width="14.8" height="3.8" fill="#111"/>
<text x="435.00" y="133.50" font-size="6.85" text-anchor="start" fill="#222" >Deviation time</text>
<path d="M416.8,145.3 H432" stroke="#c42a44" stroke-width="1.2"/>
<text x="435.00" y="148.30" font-size="6.85" text-anchor="start" fill="#222" >Median concentration</text>
<rect x="416.8" y="160.2" width="15.2" height="3.8" fill="#df8f86"/>
<text x="435.00" y="164.60" font-size="6.95" text-anchor="start" fill="#222" >Concentration (5<tspan font-size="4.6" dy="-2.7">th</tspan><tspan dy="2.7">–95</tspan><tspan font-size="4.6" dy="-2.7">th</tspan><tspan dy="2.7">)</tspan></text>
<rect x="416.8" y="173.8" width="15.2" height="4.0" fill="#f2c6bd"/>
<text x="435.00" y="178.90" font-size="6.85" text-anchor="start" fill="#222" >Concentration (full range)</text>
<circle cx="427.40" cy="190.40" r="4.40" fill="url(#pg)"/>
<path d="M429.82,187.98 L424.98,192.82" stroke="#f9dcd5" stroke-width="1.0" stroke-opacity="0.9"/>
<text x="435.00" y="193.00" font-size="6.85" text-anchor="start" fill="#222" >Full dose</text>
<path d="M430.71,202.09 A4.40,4.40 0 0 1 424.49,208.31 Z" fill="url(#pg)"/>
<text x="435.00" y="207.60" font-size="6.85" text-anchor="start" fill="#222" >Remedial dose</text>
<circle cx="427.40" cy="218.40" r="4.20" fill="none" stroke="#3a3a3a" stroke-width="0.95" stroke-dasharray="2.0 1.45"/>
<path d="M429.29,216.51 L425.51,220.29" stroke="#555" stroke-width="0.8" stroke-dasharray="1.1 1.1"/>
<text x="435.00" y="221.00" font-size="6.85" text-anchor="start" fill="#222" >Missed dose</text>
</svg>
<div class="frame"></div>
</body></html>
